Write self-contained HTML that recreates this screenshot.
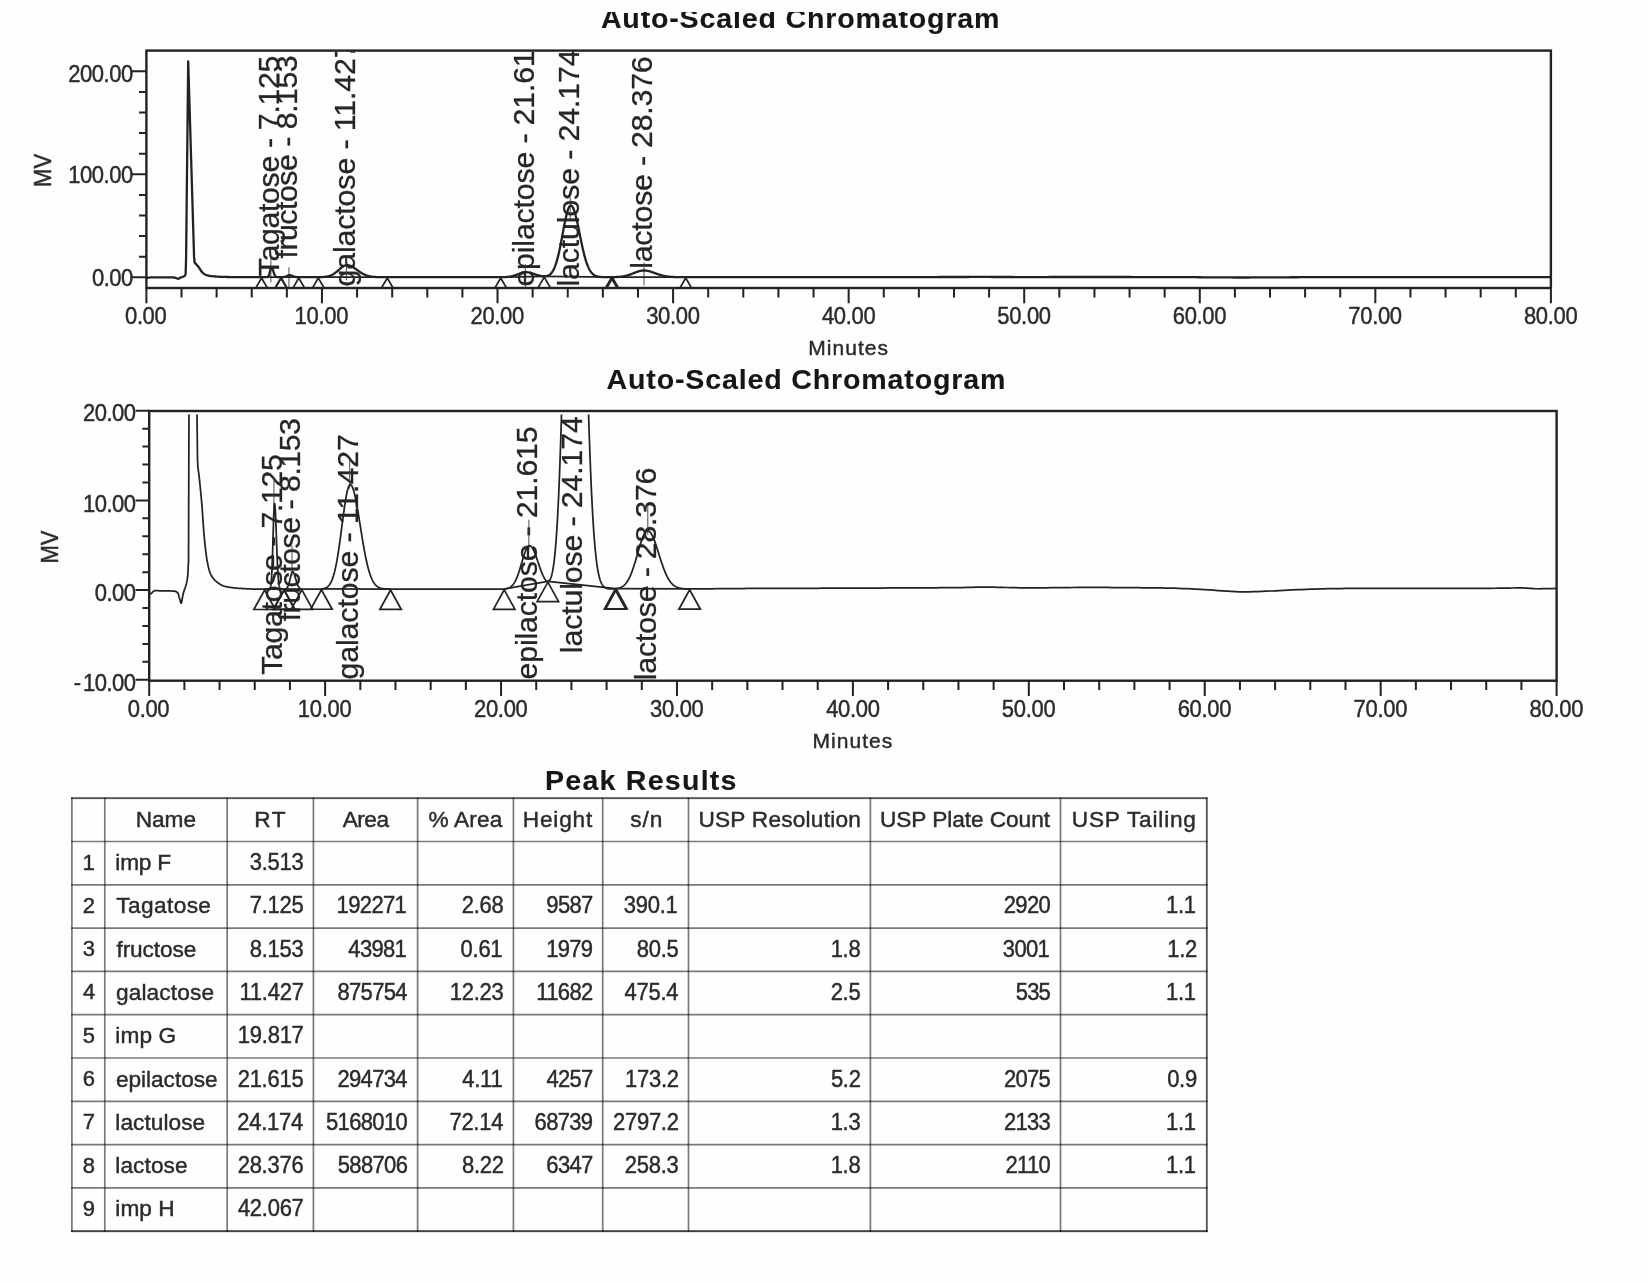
<!DOCTYPE html>
<html><head><meta charset="utf-8"><title>Chromatogram</title>
<style>html,body{margin:0;padding:0;background:#fefefe;}body{width:1648px;height:1283px;position:relative;overflow:hidden;font-family:"Liberation Sans",sans-serif;}</style>
</head><body>
<svg width="1648" height="1283" viewBox="0 0 1648 1283" style="position:absolute;left:0;top:0;filter:blur(0.55px);font-family:'Liberation Sans',sans-serif;">
<rect width="1648" height="1283" fill="#fefefe"/>
<defs><clipPath id="t1"><rect x="0" y="12" width="1648" height="40"/></clipPath></defs>
<g clip-path="url(#t1)">
<text transform="translate(600.88,28.40) scale(1.08,1.03)" fill="#161616" stroke="#161616" stroke-width="0.1" style="font-size:26.5px;font-weight:bold;letter-spacing:0.755px;">Auto-Scaled Chromatogram</text>
</g>
<text transform="translate(606.58,388.60) scale(1.08,1.03)" fill="#161616" stroke="#161616" stroke-width="0.1" style="font-size:26.5px;font-weight:bold;letter-spacing:0.763px;">Auto-Scaled Chromatogram</text>
<clipPath id="c1"><rect x="146.40" y="51.60" width="1404.50" height="236.40"/></clipPath>
<clipPath id="c1s"><rect x="146.40" y="54.20" width="1404.50" height="233.80"/></clipPath>
<g clip-path="url(#c1)">
<text transform="translate(279.29,276.41) rotate(-90) scale(1.0,1.0)" fill="#262626" stroke="#262626" stroke-width="0.3" style="font-size:30.3px;letter-spacing:-0.328px;">Tagatose - 7.125</text>
<text transform="translate(297.34,258.55) rotate(-90) scale(1.0,1.0)" fill="#262626" stroke="#262626" stroke-width="0.3" style="font-size:30.3px;letter-spacing:-0.484px;">fructose - 8.153</text>
<text transform="translate(354.82,286.61) rotate(-90) scale(1.0,1.0)" fill="#262626" stroke="#262626" stroke-width="0.3" style="font-size:30.3px;letter-spacing:-0.104px;">galactose - 11.427</text>
<text transform="translate(533.68,286.61) rotate(-90) scale(1.0,1.0)" fill="#262626" stroke="#262626" stroke-width="0.3" style="font-size:30.3px;letter-spacing:-0.167px;">epilactose - 21.615</text>
<text transform="translate(578.60,286.57) rotate(-90) scale(1.0,1.0)" fill="#262626" stroke="#262626" stroke-width="0.3" style="font-size:30.3px;letter-spacing:-0.123px;">lactulose - 24.174</text>
<text transform="translate(652.38,268.87) rotate(-90) scale(1.0,1.0)" fill="#262626" stroke="#262626" stroke-width="0.3" style="font-size:30.3px;letter-spacing:-0.200px;">lactose - 28.376</text>
</g>
<g clip-path="url(#c1)" stroke="#3a3a3a" stroke-width="0.9" fill="none">
<path d="M270.89,259.36 V282.36"/>
<path d="M288.94,267.19 V288.00"/>
<path d="M346.42,257.20 V280.20"/>
<path d="M525.28,264.20 V287.20"/>
<path d="M570.20,197.51 V220.51"/>
<path d="M643.98,262.50 V285.50"/>
</g>
<g clip-path="url(#c1)" stroke="#222" stroke-width="1.7" fill="none" stroke-linejoin="miter">
<path d="M261.57,277.20 L281.06,277.19"/>
<path d="M281.06,277.19 L298.79,277.18"/>
<path d="M318.28,277.17 L387.27,277.19"/>
<path d="M500.69,277.17 L544.22,276.30"/>
<path d="M544.22,276.30 L611.99,277.14"/>
<path d="M611.99,277.14 L685.73,277.17"/>
<path d="M261.57,278.00 L268.32,289.60 L254.82,289.60 Z"/>
<path d="M280.88,277.99 L287.63,289.59 L274.13,289.59 Z"/>
<path d="M281.23,277.99 L287.98,289.59 L274.48,289.59 Z"/>
<path d="M298.79,277.98 L305.54,289.58 L292.04,289.58 Z"/>
<path d="M318.28,277.97 L325.03,289.57 L311.53,289.57 Z"/>
<path d="M387.27,277.99 L394.02,289.59 L380.52,289.59 Z"/>
<path d="M500.69,277.97 L507.44,289.57 L493.94,289.57 Z"/>
<path d="M544.22,277.10 L550.97,288.70 L537.47,288.70 Z"/>
<path d="M611.29,277.95 L618.04,289.55 L604.54,289.55 Z"/>
<path d="M612.69,277.93 L619.44,289.53 L605.94,289.53 Z"/>
<path d="M685.73,277.97 L692.48,289.57 L678.98,289.57 Z"/>
</g>
<path clip-path="url(#c1s)" d="M146.40,277.76 L146.84,277.75 L147.28,277.74 L147.72,277.73 L147.80,277.72 L148.16,277.70 L148.59,277.67 L149.03,277.62 L149.47,277.57 L149.91,277.52 L150.35,277.47 L150.79,277.42 L151.23,277.39 L151.67,277.37 L151.84,277.37 L152.11,277.37 L152.54,277.37 L152.98,277.37 L153.42,277.37 L153.86,277.37 L154.30,277.37 L154.74,277.37 L155.18,277.37 L155.62,277.37 L156.06,277.37 L156.49,277.37 L156.93,277.38 L157.37,277.38 L157.81,277.38 L158.25,277.38 L158.69,277.38 L159.13,277.38 L159.57,277.38 L160.01,277.38 L160.44,277.38 L160.88,277.38 L161.32,277.38 L161.76,277.38 L162.20,277.38 L162.64,277.38 L163.08,277.38 L163.52,277.38 L163.96,277.39 L164.40,277.39 L164.83,277.39 L165.27,277.39 L165.71,277.39 L166.15,277.39 L166.59,277.39 L167.03,277.39 L167.47,277.40 L167.91,277.40 L168.35,277.40 L168.78,277.40 L169.22,277.41 L169.66,277.41 L170.10,277.41 L170.54,277.42 L170.98,277.42 L171.42,277.42 L171.51,277.42 L171.86,277.43 L172.30,277.44 L172.73,277.46 L173.17,277.48 L173.61,277.50 L174.05,277.54 L174.49,277.57 L174.84,277.61 L174.93,277.62 L175.37,277.73 L175.81,277.90 L176.25,278.09 L176.60,278.23 L176.68,278.26 L177.12,278.44 L177.56,278.62 L178.00,278.76 L178.35,278.80 L178.44,278.80 L178.88,278.62 L179.32,278.31 L179.76,278.02 L180.20,277.80 L180.63,277.60 L180.81,277.53 L181.07,277.43 L181.51,277.28 L181.95,277.14 L182.39,277.00 L182.83,276.84 L183.09,276.73 L183.27,276.66 L183.34,276.62 L183.41,276.59 L183.48,276.56 L183.55,276.53 L183.62,276.50 L183.69,276.46 L183.71,276.45 L183.76,276.43 L183.83,276.39 L183.90,276.36 L183.97,276.32 L184.04,276.28 L184.11,276.24 L184.15,276.22 L184.18,276.19 L184.25,276.15 L184.32,276.10 L184.39,276.05 L184.46,276.00 L184.53,275.94 L184.58,275.90 L184.60,275.88 L184.67,275.82 L184.74,275.76 L184.81,275.69 L184.85,275.65 L184.88,275.62 L184.95,275.54 L185.02,275.46 L185.09,275.14 L185.16,274.99 L185.23,274.85 L185.30,274.70 L185.37,274.55 L185.45,274.41 L185.46,274.37 L185.52,274.26 L185.59,274.11 L185.64,274.00 L185.66,273.36 L185.73,270.80 L185.80,268.24 L185.87,265.67 L185.90,264.39 L185.94,263.11 L186.01,260.55 L186.08,257.98 L186.11,256.70 L186.15,253.42 L186.22,246.85 L186.29,240.28 L186.34,235.35 L186.36,233.71 L186.43,227.15 L186.50,220.58 L186.57,214.01 L186.64,207.44 L186.71,200.87 L186.78,194.31 L186.85,187.74 L186.92,181.17 L186.99,174.60 L187.06,168.04 L187.13,161.47 L187.20,154.90 L187.22,153.26 L187.27,148.33 L187.34,141.76 L187.41,135.20 L187.48,128.63 L187.55,122.06 L187.62,115.49 L187.66,112.21 L187.69,108.93 L187.76,102.36 L187.83,95.79 L187.90,89.22 L187.97,82.65 L188.04,76.09 L188.10,71.16 L188.11,69.52 L188.18,62.95 L188.20,61.31 L188.25,63.06 L188.32,65.40 L188.39,67.74 L188.46,70.08 L188.53,72.42 L188.61,74.76 L188.68,77.10 L188.75,79.44 L188.82,81.78 L188.89,84.12 L188.96,86.46 L188.97,87.05 L189.03,88.80 L189.10,91.14 L189.17,93.48 L189.24,95.82 L189.31,98.16 L189.38,100.50 L189.41,101.67 L189.45,102.84 L189.52,105.18 L189.59,107.52 L189.66,109.86 L189.73,112.20 L189.80,114.54 L189.85,116.30 L189.87,116.88 L189.94,119.22 L190.01,121.56 L190.08,123.90 L190.15,126.24 L190.22,128.58 L190.29,130.92 L190.36,133.26 L190.43,135.60 L190.50,137.94 L190.57,140.28 L190.64,142.62 L190.71,144.96 L190.73,145.55 L190.78,147.30 L190.85,149.64 L190.92,151.98 L190.99,154.32 L191.06,156.66 L191.13,159.00 L191.17,160.17 L191.20,161.34 L191.27,163.68 L191.34,166.02 L191.41,168.36 L191.48,170.70 L191.55,173.04 L191.61,174.80 L191.62,175.38 L191.70,177.72 L191.77,180.06 L191.84,182.40 L191.91,184.74 L191.98,187.08 L192.05,189.42 L192.12,191.76 L192.19,194.10 L192.26,196.44 L192.33,198.78 L192.40,201.12 L192.47,203.46 L192.49,204.05 L192.54,205.80 L192.61,208.14 L192.68,210.48 L192.75,212.82 L192.82,215.16 L192.89,217.50 L192.92,218.67 L192.96,219.84 L193.03,222.18 L193.10,224.52 L193.17,226.86 L193.24,229.20 L193.31,231.54 L193.36,233.30 L193.38,233.88 L193.45,236.22 L193.52,238.56 L193.59,240.90 L193.66,243.24 L193.73,245.58 L193.80,247.92 L193.87,250.26 L193.94,252.60 L194.01,254.94 L194.07,256.70 L194.08,256.88 L194.15,257.61 L194.22,258.34 L194.24,258.53 L194.29,259.08 L194.36,259.81 L194.43,260.54 L194.50,261.27 L194.57,262.00 L194.61,262.37 L194.64,262.41 L194.68,262.45 L194.71,262.49 L194.79,262.57 L194.86,262.87 L194.93,262.99 L195.00,263.10 L195.07,263.19 L195.12,263.26 L195.14,263.28 L195.21,263.36 L195.28,263.44 L195.35,263.51 L195.42,263.57 L195.49,263.63 L195.56,263.68 L196.00,264.01 L196.31,264.32 L196.44,264.46 L196.87,264.97 L197.31,265.47 L197.75,265.98 L198.19,266.50 L198.63,267.06 L198.81,267.29 L199.07,267.66 L199.51,268.35 L199.95,269.08 L200.39,269.81 L200.82,270.51 L201.26,271.12 L201.35,271.22 L201.70,271.64 L202.14,272.13 L202.58,272.60 L203.02,273.02 L203.46,273.40 L203.90,273.73 L203.98,273.79 L204.34,274.01 L204.77,274.27 L205.21,274.52 L205.65,274.74 L206.09,274.94 L206.53,275.12 L206.97,275.26 L207.32,275.36 L207.41,275.39 L207.85,275.49 L208.29,275.59 L208.72,275.68 L209.16,275.77 L209.60,275.85 L210.04,275.92 L210.48,275.99 L210.92,276.05 L211.36,276.10 L211.80,276.16 L212.24,276.20 L212.59,276.24 L212.67,276.25 L213.11,276.29 L213.55,276.33 L213.99,276.37 L214.43,276.41 L214.87,276.45 L215.31,276.49 L215.75,276.52 L216.19,276.56 L216.62,276.59 L217.06,276.62 L217.50,276.65 L217.94,276.68 L218.38,276.71 L218.82,276.73 L219.26,276.76 L219.70,276.78 L220.14,276.80 L220.58,276.82 L221.01,276.84 L221.45,276.86 L221.89,276.87 L222.33,276.89 L222.77,276.90 L223.21,276.91 L223.65,276.92 L224.09,276.93 L224.53,276.94 L224.96,276.95 L225.40,276.95 L225.84,276.96 L226.28,276.97 L226.72,276.98 L227.16,276.99 L227.60,276.99 L228.04,277.00 L228.48,277.01 L228.91,277.01 L229.35,277.02 L229.79,277.03 L230.23,277.03 L230.67,277.04 L231.11,277.04 L231.55,277.05 L231.99,277.06 L232.43,277.06 L232.86,277.07 L233.30,277.07 L233.74,277.07 L234.18,277.08 L234.62,277.08 L235.06,277.09 L235.50,277.09 L235.94,277.09 L236.38,277.10 L236.81,277.10 L237.25,277.11 L237.69,277.11 L238.13,277.11 L238.57,277.12 L239.01,277.12 L239.45,277.12 L239.89,277.12 L239.97,277.12 L240.33,277.13 L240.76,277.13 L241.20,277.13 L241.64,277.14 L242.08,277.14 L242.52,277.14 L242.96,277.14 L243.40,277.15 L243.84,277.15 L244.28,277.15 L244.71,277.15 L245.15,277.16 L245.59,277.16 L246.03,277.16 L246.47,277.16 L246.91,277.17 L247.35,277.17 L247.79,277.17 L248.23,277.17 L248.67,277.18 L249.10,277.18 L249.54,277.18 L249.98,277.18 L250.42,277.18 L250.86,277.18 L251.30,277.19 L251.74,277.19 L252.18,277.19 L252.62,277.19 L253.05,277.19 L253.49,277.19 L253.93,277.19 L254.37,277.19 L254.81,277.20 L255.25,277.20 L255.69,277.20 L256.13,277.20 L256.57,277.20 L257.00,277.20 L257.44,277.20 L257.88,277.20 L258.32,277.20 L258.76,277.20 L259.20,277.20 L259.64,277.20 L260.08,277.20 L260.52,277.20 L260.95,277.20 L261.39,277.20 L261.83,277.20 L262.27,277.20 L262.71,277.20 L263.15,277.20 L263.59,277.20 L264.03,277.20 L264.47,277.20 L264.90,277.20 L265.34,277.19 L265.78,277.19 L265.96,277.19 L266.13,277.18 L266.22,277.18 L266.31,277.17 L266.48,277.16 L266.66,277.14 L266.84,277.12 L267.01,277.09 L267.10,277.07 L267.19,277.04 L267.36,276.98 L267.54,276.90 L267.71,276.80 L267.89,276.66 L267.98,276.58 L268.06,276.49 L268.24,276.28 L268.42,276.02 L268.59,275.70 L268.77,275.33 L268.85,275.12 L268.94,274.90 L269.12,274.41 L269.29,273.86 L269.47,273.26 L269.64,272.61 L269.73,272.27 L269.82,271.93 L270.00,271.23 L270.17,270.53 L270.35,269.85 L270.52,269.22 L270.61,268.92 L270.70,268.65 L270.87,268.16 L271.05,267.78 L271.22,267.51 L271.40,267.38 L271.49,267.36 L271.58,267.37 L271.75,267.46 L271.93,267.64 L272.10,267.89 L272.28,268.22 L272.37,268.41 L272.45,268.62 L272.63,269.08 L272.81,269.58 L272.98,270.11 L273.16,270.66 L273.24,270.95 L273.33,271.23 L273.51,271.80 L273.68,272.35 L273.86,272.89 L274.03,273.41 L274.12,273.65 L274.21,273.89 L274.39,274.34 L274.56,274.74 L274.74,275.11 L274.91,275.44 L275.00,275.59 L275.09,275.73 L275.26,275.99 L275.44,276.21 L275.61,276.39 L275.79,276.55 L275.88,276.62 L275.97,276.68 L276.14,276.79 L276.32,276.88 L276.49,276.95 L276.67,277.01 L276.76,277.03 L276.84,277.05 L277.02,277.09 L277.19,277.12 L277.37,277.14 L277.55,277.15 L277.63,277.16 L277.72,277.16 L277.90,277.17 L278.07,277.18 L278.51,277.19 L278.95,277.19 L279.39,277.20 L279.83,277.20 L280.27,277.20 L280.71,277.19 L281.14,277.19 L281.58,277.19 L282.02,277.18 L282.46,277.17 L282.90,277.14 L283.34,277.11 L283.78,277.07 L284.22,277.00 L284.66,276.92 L285.09,276.80 L285.53,276.66 L285.97,276.50 L286.41,276.30 L286.85,276.09 L287.29,275.87 L287.73,275.66 L288.17,275.48 L288.61,275.33 L289.04,275.23 L289.48,275.19 L289.92,275.21 L290.36,275.26 L290.80,275.36 L291.24,275.49 L291.68,275.64 L292.12,275.82 L292.56,275.99 L292.99,276.17 L293.43,276.34 L293.87,276.50 L294.31,276.64 L294.75,276.76 L295.19,276.86 L295.63,276.95 L296.07,277.01 L296.51,277.07 L296.94,277.10 L297.38,277.13 L297.82,277.15 L298.26,277.17 L298.70,277.18 L299.14,277.19 L299.58,277.19 L300.02,277.19 L300.46,277.19 L300.89,277.20 L301.33,277.20 L301.77,277.20 L302.21,277.20 L302.65,277.20 L303.09,277.20 L303.53,277.20 L303.97,277.20 L304.41,277.20 L304.85,277.20 L305.28,277.20 L305.72,277.20 L306.16,277.20 L306.60,277.20 L307.04,277.20 L307.48,277.20 L307.92,277.20 L308.36,277.20 L308.80,277.20 L309.23,277.20 L309.67,277.20 L310.11,277.20 L310.55,277.20 L310.99,277.20 L311.43,277.20 L311.87,277.20 L312.31,277.20 L312.75,277.19 L313.18,277.19 L313.62,277.19 L314.06,277.19 L314.50,277.19 L314.94,277.19 L315.38,277.19 L315.82,277.19 L316.26,277.19 L316.70,277.18 L317.13,277.18 L317.57,277.18 L318.01,277.17 L318.45,277.17 L318.89,277.16 L319.33,277.15 L319.77,277.15 L320.21,277.14 L320.65,277.12 L321.08,277.11 L321.52,277.10 L321.96,277.08 L322.40,277.06 L322.84,277.03 L323.28,277.01 L323.72,276.97 L324.16,276.94 L324.60,276.90 L325.03,276.85 L325.47,276.80 L325.91,276.74 L326.35,276.68 L326.79,276.60 L327.23,276.52 L327.67,276.43 L328.11,276.33 L328.55,276.22 L328.99,276.09 L329.42,275.96 L329.86,275.81 L330.30,275.65 L330.74,275.48 L331.18,275.29 L331.62,275.09 L332.06,274.88 L332.50,274.65 L332.94,274.40 L333.37,274.14 L333.81,273.86 L334.25,273.57 L334.69,273.26 L335.13,272.94 L335.57,272.61 L336.01,272.27 L336.45,271.91 L336.89,271.55 L337.32,271.18 L337.76,270.80 L338.20,270.41 L338.64,270.03 L339.08,269.64 L339.52,269.25 L339.96,268.87 L340.40,268.50 L340.84,268.13 L341.27,267.78 L341.71,267.44 L342.15,267.11 L342.59,266.80 L343.03,266.52 L343.47,266.26 L343.91,266.02 L344.35,265.81 L344.79,265.63 L345.22,265.48 L345.66,265.36 L346.10,265.27 L346.54,265.22 L346.98,265.20 L347.42,265.21 L347.86,265.24 L348.30,265.30 L348.74,265.37 L349.17,265.47 L349.61,265.60 L350.05,265.74 L350.49,265.90 L350.93,266.08 L351.37,266.28 L351.81,266.50 L352.25,266.73 L352.69,266.98 L353.12,267.24 L353.56,267.51 L354.00,267.79 L354.44,268.09 L354.88,268.39 L355.32,268.69 L355.76,269.00 L356.20,269.32 L356.64,269.64 L357.07,269.96 L357.51,270.28 L357.95,270.59 L358.39,270.91 L358.83,271.22 L359.27,271.53 L359.71,271.83 L360.15,272.12 L360.59,272.41 L361.03,272.69 L361.46,272.97 L361.90,273.23 L362.34,273.48 L362.78,273.73 L363.22,273.96 L363.66,274.19 L364.10,274.40 L364.54,274.61 L364.98,274.80 L365.41,274.98 L365.85,275.16 L366.29,275.32 L366.73,275.47 L367.17,275.62 L367.61,275.75 L368.05,275.88 L368.49,276.00 L368.93,276.11 L369.36,276.21 L369.80,276.30 L370.24,276.39 L370.68,276.46 L371.12,276.54 L371.56,276.60 L372.00,276.67 L372.44,276.72 L372.88,276.77 L373.31,276.82 L373.75,276.86 L374.19,276.90 L374.63,276.93 L375.07,276.96 L375.51,276.99 L375.95,277.01 L376.39,277.04 L376.83,277.06 L377.26,277.07 L377.70,277.09 L378.14,277.10 L378.58,277.11 L379.02,277.12 L379.46,277.13 L379.90,277.14 L380.34,277.15 L380.78,277.16 L381.21,277.16 L381.65,277.17 L382.09,277.17 L382.53,277.17 L382.97,277.18 L383.41,277.18 L383.85,277.18 L384.29,277.19 L384.73,277.19 L385.16,277.19 L385.60,277.19 L386.04,277.19 L386.48,277.19 L386.92,277.19 L387.36,277.19 L387.80,277.19 L388.24,277.19 L388.68,277.19 L389.12,277.20 L389.55,277.20 L389.99,277.20 L390.43,277.20 L390.87,277.20 L391.31,277.20 L391.75,277.20 L392.19,277.20 L392.63,277.20 L393.07,277.20 L393.50,277.20 L393.94,277.20 L394.38,277.20 L394.82,277.20 L395.26,277.20 L395.70,277.20 L396.14,277.20 L396.58,277.20 L397.02,277.20 L397.45,277.20 L397.89,277.20 L398.33,277.20 L398.77,277.20 L399.21,277.20 L399.65,277.20 L400.09,277.20 L400.53,277.20 L400.97,277.20 L401.40,277.20 L401.84,277.20 L402.28,277.20 L402.72,277.20 L403.16,277.20 L403.60,277.20 L404.04,277.20 L404.48,277.20 L404.92,277.20 L405.35,277.20 L405.79,277.20 L406.23,277.20 L406.67,277.20 L407.11,277.20 L407.55,277.20 L407.99,277.20 L408.43,277.20 L408.87,277.20 L409.30,277.20 L409.74,277.20 L410.18,277.20 L410.62,277.20 L411.06,277.20 L411.50,277.20 L411.94,277.20 L412.38,277.20 L412.82,277.20 L413.25,277.20 L413.69,277.20 L414.13,277.20 L414.57,277.20 L415.01,277.20 L415.45,277.20 L415.89,277.20 L416.33,277.20 L416.77,277.20 L417.21,277.20 L417.64,277.20 L418.08,277.20 L418.52,277.20 L418.96,277.20 L419.40,277.20 L419.84,277.20 L420.28,277.20 L420.72,277.20 L421.16,277.20 L421.59,277.20 L422.03,277.20 L422.47,277.20 L422.91,277.20 L423.35,277.20 L423.79,277.20 L424.23,277.20 L424.67,277.20 L425.11,277.20 L425.54,277.20 L425.98,277.20 L426.42,277.20 L426.86,277.20 L427.30,277.20 L427.74,277.20 L428.18,277.20 L428.62,277.20 L429.06,277.20 L429.49,277.20 L429.93,277.20 L430.37,277.20 L430.81,277.20 L431.25,277.20 L431.69,277.20 L432.13,277.20 L432.57,277.20 L433.01,277.20 L433.44,277.20 L433.88,277.20 L434.32,277.20 L434.76,277.20 L435.20,277.20 L435.64,277.20 L436.08,277.20 L436.52,277.20 L436.96,277.20 L437.39,277.20 L437.83,277.20 L438.27,277.20 L438.71,277.20 L439.15,277.20 L439.59,277.20 L440.03,277.20 L440.47,277.20 L440.91,277.20 L441.35,277.20 L441.78,277.20 L442.22,277.20 L442.66,277.20 L443.10,277.20 L443.54,277.20 L443.98,277.20 L444.42,277.20 L444.86,277.20 L445.30,277.20 L445.73,277.20 L446.17,277.20 L446.61,277.20 L447.05,277.20 L447.49,277.20 L447.93,277.20 L448.37,277.20 L448.81,277.20 L449.25,277.20 L449.68,277.20 L450.12,277.20 L450.56,277.20 L451.00,277.20 L451.44,277.20 L451.88,277.20 L452.32,277.20 L452.76,277.20 L453.20,277.20 L453.63,277.20 L454.07,277.20 L454.51,277.20 L454.95,277.20 L455.39,277.20 L455.83,277.20 L456.27,277.20 L456.71,277.20 L457.15,277.20 L457.58,277.20 L458.02,277.20 L458.46,277.20 L458.90,277.20 L459.34,277.20 L459.78,277.20 L460.22,277.20 L460.66,277.20 L461.10,277.20 L461.53,277.20 L461.97,277.20 L462.41,277.20 L462.85,277.20 L463.29,277.20 L463.73,277.20 L464.17,277.20 L464.61,277.20 L465.05,277.20 L465.48,277.20 L465.92,277.20 L466.36,277.20 L466.80,277.20 L467.24,277.20 L467.68,277.20 L468.12,277.20 L468.56,277.20 L469.00,277.20 L469.43,277.20 L469.87,277.20 L470.31,277.20 L470.75,277.20 L471.19,277.20 L471.63,277.20 L472.07,277.20 L472.51,277.20 L472.95,277.20 L473.39,277.20 L473.82,277.20 L474.26,277.20 L474.70,277.20 L475.14,277.20 L475.58,277.20 L476.02,277.20 L476.46,277.20 L476.90,277.20 L477.34,277.20 L477.77,277.20 L478.21,277.20 L478.65,277.20 L479.09,277.20 L479.53,277.20 L479.97,277.20 L480.41,277.20 L480.85,277.20 L481.29,277.20 L481.72,277.20 L482.16,277.20 L482.60,277.20 L483.04,277.20 L483.48,277.20 L483.92,277.20 L484.36,277.20 L484.80,277.20 L485.24,277.20 L485.67,277.20 L486.11,277.20 L486.55,277.20 L486.99,277.20 L487.43,277.20 L487.87,277.20 L488.31,277.20 L488.75,277.20 L489.19,277.20 L489.62,277.20 L490.06,277.20 L490.50,277.20 L490.94,277.20 L491.38,277.20 L491.82,277.20 L492.26,277.20 L492.70,277.20 L493.14,277.20 L493.57,277.20 L494.01,277.20 L494.45,277.20 L494.89,277.20 L495.33,277.19 L495.77,277.19 L496.21,277.19 L496.65,277.19 L497.09,277.19 L497.52,277.19 L497.96,277.19 L498.40,277.19 L498.84,277.19 L499.28,277.18 L499.72,277.18 L500.16,277.18 L500.60,277.17 L501.04,277.17 L501.48,277.16 L501.91,277.16 L502.35,277.15 L502.79,277.14 L503.23,277.13 L503.67,277.12 L504.11,277.10 L504.55,277.09 L504.99,277.07 L505.43,277.05 L505.86,277.02 L506.30,277.00 L506.74,276.96 L507.18,276.93 L507.62,276.89 L508.06,276.85 L508.50,276.80 L508.94,276.75 L509.38,276.69 L509.81,276.62 L510.25,276.55 L510.69,276.47 L511.13,276.39 L511.57,276.30 L512.01,276.20 L512.45,276.09 L512.89,275.98 L513.33,275.86 L513.76,275.74 L514.20,275.60 L514.64,275.46 L515.08,275.32 L515.52,275.16 L515.96,275.01 L516.40,274.84 L516.84,274.68 L517.28,274.51 L517.71,274.34 L518.15,274.17 L518.59,273.99 L519.03,273.82 L519.47,273.66 L519.91,273.49 L520.35,273.33 L520.79,273.18 L521.23,273.03 L521.66,272.89 L522.10,272.76 L522.54,272.65 L522.98,272.54 L523.42,272.45 L523.86,272.37 L524.30,272.30 L524.74,272.26 L525.18,272.22 L525.62,272.20 L526.05,272.20 L526.49,272.21 L526.93,272.24 L527.37,272.27 L527.81,272.32 L528.25,272.38 L528.69,272.45 L529.13,272.53 L529.57,272.62 L530.00,272.72 L530.44,272.83 L530.88,272.95 L531.32,273.07 L531.76,273.20 L532.20,273.34 L532.64,273.48 L533.08,273.63 L533.52,273.77 L533.95,273.92 L534.39,274.07 L534.83,274.22 L535.27,274.37 L535.71,274.52 L536.15,274.67 L536.59,274.81 L537.03,274.95 L537.47,275.09 L537.90,275.22 L538.34,275.35 L538.78,275.47 L539.22,275.59 L539.66,275.69 L540.10,275.80 L540.54,275.89 L540.98,275.97 L541.42,276.05 L541.85,276.12 L542.29,276.18 L542.73,276.23 L543.17,276.26 L543.61,276.29 L544.05,276.30 L544.49,276.30 L544.93,276.28 L545.37,276.25 L545.80,276.20 L546.24,276.13 L546.68,276.03 L547.12,275.92 L547.56,275.78 L548.00,275.61 L548.44,275.41 L548.88,275.18 L549.32,274.91 L549.75,274.60 L550.19,274.25 L550.63,273.85 L551.07,273.40 L551.51,272.89 L551.95,272.33 L552.39,271.70 L552.83,271.00 L553.27,270.24 L553.70,269.39 L554.14,268.47 L554.58,267.47 L555.02,266.38 L555.46,265.20 L555.90,263.93 L556.34,262.57 L556.78,261.12 L557.22,259.57 L557.66,257.92 L558.09,256.19 L558.53,254.37 L558.97,252.46 L559.41,250.46 L559.85,248.40 L560.29,246.26 L560.73,244.06 L561.17,241.81 L561.61,239.51 L562.04,237.19 L562.48,234.84 L562.92,232.49 L563.36,230.14 L563.80,227.82 L564.24,225.53 L564.68,223.30 L565.12,221.13 L565.56,219.05 L565.99,217.07 L566.43,215.20 L566.87,213.46 L567.31,211.86 L567.75,210.41 L568.19,209.14 L568.63,208.04 L569.07,207.13 L569.51,206.42 L569.94,205.91 L570.38,205.60 L570.82,205.51 L571.26,205.60 L571.70,205.87 L572.14,206.32 L572.58,206.94 L573.02,207.73 L573.46,208.68 L573.89,209.78 L574.33,211.03 L574.77,212.41 L575.21,213.93 L575.65,215.56 L576.09,217.30 L576.53,219.13 L576.97,221.05 L577.41,223.04 L577.84,225.09 L578.28,227.18 L578.72,229.31 L579.16,231.46 L579.60,233.62 L580.04,235.79 L580.48,237.94 L580.92,240.08 L581.36,242.18 L581.79,244.25 L582.23,246.27 L582.67,248.24 L583.11,250.15 L583.55,252.00 L583.99,253.78 L584.43,255.49 L584.87,257.12 L585.31,258.68 L585.75,260.15 L586.18,261.55 L586.62,262.87 L587.06,264.11 L587.50,265.28 L587.94,266.36 L588.38,267.37 L588.82,268.31 L589.26,269.18 L589.70,269.98 L590.13,270.72 L590.57,271.40 L591.01,272.02 L591.45,272.58 L591.89,273.09 L592.33,273.56 L592.77,273.98 L593.21,274.36 L593.65,274.70 L594.08,275.00 L594.52,275.27 L594.96,275.52 L595.40,275.73 L595.84,275.92 L596.28,276.09 L596.72,276.24 L597.16,276.37 L597.60,276.48 L598.03,276.58 L598.47,276.67 L598.91,276.75 L599.35,276.81 L599.79,276.87 L600.23,276.92 L600.67,276.96 L601.11,276.99 L601.55,277.03 L601.98,277.05 L602.42,277.07 L602.86,277.09 L603.30,277.11 L603.74,277.12 L604.18,277.13 L604.62,277.14 L605.06,277.15 L605.50,277.15 L605.93,277.16 L606.37,277.16 L606.81,277.16 L607.25,277.17 L607.69,277.17 L608.13,277.17 L608.57,277.17 L609.01,277.17 L609.45,277.16 L609.88,277.16 L610.32,277.16 L610.76,277.15 L611.20,277.15 L611.64,277.15 L612.08,277.14 L612.52,277.13 L612.96,277.13 L613.40,277.12 L613.84,277.11 L614.27,277.10 L614.71,277.08 L615.15,277.07 L615.59,277.05 L616.03,277.04 L616.47,277.02 L616.91,277.00 L617.35,276.97 L617.79,276.95 L618.22,276.92 L618.66,276.89 L619.10,276.86 L619.54,276.82 L619.98,276.78 L620.42,276.73 L620.86,276.69 L621.30,276.64 L621.74,276.58 L622.17,276.52 L622.61,276.46 L623.05,276.39 L623.49,276.31 L623.93,276.23 L624.37,276.15 L624.81,276.06 L625.25,275.96 L625.69,275.86 L626.12,275.75 L626.56,275.64 L627.00,275.52 L627.44,275.40 L627.88,275.27 L628.32,275.14 L628.76,275.00 L629.20,274.85 L629.64,274.70 L630.07,274.55 L630.51,274.39 L630.95,274.23 L631.39,274.06 L631.83,273.89 L632.27,273.72 L632.71,273.55 L633.15,273.37 L633.59,273.19 L634.02,273.02 L634.46,272.84 L634.90,272.67 L635.34,272.49 L635.78,272.32 L636.22,272.16 L636.66,271.99 L637.10,271.83 L637.54,271.68 L637.97,271.53 L638.41,271.39 L638.85,271.26 L639.29,271.14 L639.73,271.02 L640.17,270.92 L640.61,270.83 L641.05,270.74 L641.49,270.67 L641.93,270.61 L642.36,270.56 L642.80,270.52 L643.24,270.50 L643.68,270.49 L644.12,270.49 L644.56,270.50 L645.00,270.52 L645.44,270.56 L645.88,270.60 L646.31,270.65 L646.75,270.71 L647.19,270.78 L647.63,270.87 L648.07,270.96 L648.51,271.05 L648.95,271.16 L649.39,271.27 L649.83,271.39 L650.26,271.52 L650.70,271.65 L651.14,271.79 L651.58,271.94 L652.02,272.08 L652.46,272.23 L652.90,272.39 L653.34,272.54 L653.78,272.70 L654.21,272.86 L654.65,273.02 L655.09,273.18 L655.53,273.34 L655.97,273.51 L656.41,273.66 L656.85,273.82 L657.29,273.98 L657.73,274.13 L658.16,274.28 L658.60,274.43 L659.04,274.57 L659.48,274.71 L659.92,274.85 L660.36,274.98 L660.80,275.11 L661.24,275.23 L661.68,275.35 L662.11,275.46 L662.55,275.57 L662.99,275.68 L663.43,275.78 L663.87,275.88 L664.31,275.97 L664.75,276.05 L665.19,276.14 L665.63,276.21 L666.06,276.29 L666.50,276.36 L666.94,276.42 L667.38,276.48 L667.82,276.54 L668.26,276.59 L668.70,276.64 L669.14,276.69 L669.58,276.73 L670.02,276.77 L670.45,276.81 L670.89,276.84 L671.33,276.87 L671.77,276.90 L672.21,276.93 L672.65,276.95 L673.09,276.97 L673.53,276.99 L673.97,277.01 L674.40,277.03 L674.84,277.04 L675.28,277.06 L675.72,277.07 L676.16,277.08 L676.60,277.09 L677.04,277.10 L677.48,277.11 L677.92,277.12 L678.35,277.12 L678.79,277.13 L679.23,277.13 L679.67,277.14 L680.11,277.14 L680.55,277.15 L680.99,277.15 L681.43,277.15 L681.87,277.15 L682.30,277.16 L682.74,277.16 L683.18,277.16 L683.62,277.16 L684.06,277.16 L684.50,277.16 L684.94,277.16 L685.38,277.16 L685.82,277.17 L686.25,277.17 L686.69,277.17 L687.13,277.17 L687.57,277.17 L688.01,277.17 L688.45,277.17 L688.89,277.17 L689.33,277.17 L689.77,277.17 L690.20,277.17 L690.64,277.17 L691.08,277.17 L691.52,277.16 L691.96,277.16 L692.40,277.16 L692.84,277.16 L693.28,277.16 L693.72,277.16 L694.15,277.16 L694.59,277.16 L695.03,277.16 L695.47,277.16 L695.91,277.16 L696.35,277.16 L696.79,277.16 L697.23,277.16 L697.67,277.16 L698.11,277.16 L698.54,277.16 L698.98,277.16 L699.42,277.16 L699.86,277.16 L700.30,277.16 L700.74,277.16 L701.18,277.16 L701.62,277.16 L702.06,277.16 L702.49,277.15 L702.93,277.15 L703.37,277.15 L703.81,277.15 L704.25,277.15 L704.69,277.15 L705.13,277.15 L705.57,277.15 L706.01,277.15 L706.44,277.15 L706.88,277.15 L707.32,277.15 L707.76,277.15 L708.20,277.15 L712.59,277.14 L716.98,277.14 L721.37,277.13 L725.76,277.13 L730.15,277.12 L734.53,277.12 L738.92,277.12 L743.31,277.11 L747.70,277.11 L752.09,277.11 L756.48,277.11 L760.87,277.11 L765.26,277.10 L769.65,277.10 L774.04,277.10 L778.42,277.10 L782.81,277.10 L787.20,277.10 L791.59,277.09 L795.98,277.09 L800.37,277.09 L804.76,277.09 L809.15,277.09 L813.54,277.09 L817.93,277.09 L822.32,277.08 L826.70,277.08 L831.09,277.08 L835.48,277.08 L839.87,277.08 L844.26,277.08 L848.65,277.07 L853.04,277.07 L857.43,277.07 L861.82,277.07 L866.21,277.07 L870.60,277.06 L874.98,277.06 L879.37,277.06 L883.76,277.06 L888.15,277.06 L892.54,277.05 L896.93,277.05 L901.32,277.05 L905.71,277.05 L910.10,277.04 L914.49,277.04 L918.87,277.04 L923.26,277.04 L927.65,277.03 L932.04,277.03 L936.43,277.03 L940.82,277.02 L945.21,277.02 L949.60,277.02 L953.99,277.01 L958.38,277.00 L962.77,276.99 L967.15,276.98 L971.54,276.97 L975.93,276.96 L980.32,276.96 L984.71,276.96 L989.10,276.97 L993.49,276.98 L997.88,276.99 L1002.27,277.00 L1006.66,277.01 L1011.05,277.02 L1015.43,277.03 L1019.82,277.04 L1024.21,277.04 L1028.60,277.04 L1032.99,277.04 L1037.38,277.04 L1041.77,277.03 L1046.16,277.03 L1050.55,277.02 L1054.94,277.02 L1059.33,277.01 L1063.71,277.01 L1068.10,277.00 L1072.49,277.00 L1076.88,276.99 L1081.27,276.99 L1085.66,276.99 L1090.05,276.99 L1094.44,276.99 L1098.83,277.00 L1103.22,277.00 L1107.60,277.00 L1111.99,277.00 L1116.38,277.01 L1120.77,277.01 L1125.16,277.02 L1129.55,277.02 L1133.94,277.03 L1138.33,277.03 L1142.72,277.04 L1147.11,277.04 L1151.50,277.05 L1155.88,277.06 L1160.27,277.06 L1164.66,277.07 L1169.05,277.09 L1173.44,277.10 L1177.83,277.12 L1182.22,277.14 L1186.61,277.17 L1191.00,277.19 L1195.39,277.22 L1199.78,277.25 L1204.16,277.28 L1208.55,277.31 L1212.94,277.35 L1217.33,277.39 L1221.72,277.42 L1222.60,277.42 L1226.11,277.45 L1230.50,277.47 L1234.89,277.49 L1239.28,277.51 L1240.15,277.51 L1243.67,277.50 L1248.05,277.49 L1252.44,277.47 L1256.83,277.44 L1261.22,277.42 L1265.61,277.40 L1270.00,277.38 L1274.39,277.36 L1278.78,277.33 L1283.17,277.30 L1287.56,277.28 L1291.95,277.25 L1296.33,277.23 L1300.72,277.21 L1305.11,277.20 L1309.50,277.18 L1313.89,277.17 L1318.28,277.16 L1322.67,277.14 L1327.06,277.13 L1331.45,277.13 L1335.84,277.12 L1340.22,277.11 L1344.61,277.11 L1349.00,277.11 L1353.39,277.11 L1357.78,277.11 L1362.17,277.10 L1366.56,277.10 L1370.95,277.10 L1375.34,277.10 L1379.73,277.10 L1384.12,277.10 L1388.50,277.10 L1392.89,277.10 L1397.28,277.09 L1401.67,277.09 L1406.06,277.09 L1410.45,277.09 L1414.84,277.09 L1419.23,277.09 L1423.62,277.09 L1428.01,277.09 L1432.40,277.09 L1436.78,277.09 L1441.17,277.09 L1445.56,277.09 L1449.95,277.09 L1454.34,277.09 L1458.73,277.09 L1463.12,277.09 L1467.51,277.09 L1471.90,277.09 L1476.29,277.09 L1480.67,277.09 L1485.06,277.09 L1489.45,277.09 L1493.84,277.08 L1498.23,277.07 L1502.62,277.07 L1507.01,277.06 L1511.40,277.05 L1515.79,277.05 L1520.18,277.07 L1524.57,277.10 L1528.95,277.13 L1533.34,277.15 L1537.73,277.14 L1542.12,277.14 L1546.51,277.12 L1550.90,277.09" fill="none" stroke="#222" stroke-width="2.3" stroke-linejoin="round"/>
<rect x="146.40" y="50.60" width="1404.50" height="237.40" fill="none" stroke="#222" stroke-width="2.4"/>
<path d="M132.00,277.30 H146.40 M132.00,174.30 H146.40 M132.00,71.30 H146.40 M139.00,256.70 H146.40 M139.00,236.10 H146.40 M139.00,215.50 H146.40 M139.00,194.90 H146.40 M139.00,153.70 H146.40 M139.00,133.10 H146.40 M139.00,112.50 H146.40 M139.00,91.90 H146.40 M146.40,288.00 V303.20 M181.51,288.00 V297.40 M216.62,288.00 V297.40 M251.74,288.00 V297.40 M286.85,288.00 V297.40 M321.96,288.00 V303.20 M357.07,288.00 V297.40 M392.19,288.00 V297.40 M427.30,288.00 V297.40 M462.41,288.00 V297.40 M497.52,288.00 V303.20 M532.64,288.00 V297.40 M567.75,288.00 V297.40 M602.86,288.00 V297.40 M637.97,288.00 V297.40 M673.09,288.00 V303.20 M708.20,288.00 V297.40 M743.31,288.00 V297.40 M778.42,288.00 V297.40 M813.54,288.00 V297.40 M848.65,288.00 V303.20 M883.76,288.00 V297.40 M918.87,288.00 V297.40 M953.99,288.00 V297.40 M989.10,288.00 V297.40 M1024.21,288.00 V303.20 M1059.33,288.00 V297.40 M1094.44,288.00 V297.40 M1129.55,288.00 V297.40 M1164.66,288.00 V297.40 M1199.78,288.00 V303.20 M1234.89,288.00 V297.40 M1270.00,288.00 V297.40 M1305.11,288.00 V297.40 M1340.22,288.00 V297.40 M1375.34,288.00 V303.20 M1410.45,288.00 V297.40 M1445.56,288.00 V297.40 M1480.67,288.00 V297.40 M1515.79,288.00 V297.40 M1550.90,288.00 V303.20" fill="none" stroke="#222" stroke-width="2"/>
<text transform="translate(91.94,286.20) scale(1.0,1.06)" fill="#2b2b2b" stroke="#2b2b2b" stroke-width="0.42" style="font-size:22px;letter-spacing:-0.521px;">0.00</text>
<text transform="translate(68.32,183.00) scale(1.0,1.06)" fill="#2b2b2b" stroke="#2b2b2b" stroke-width="0.42" style="font-size:22px;letter-spacing:-0.493px;">100.00</text>
<text transform="translate(68.34,82.10) scale(1.0,1.06)" fill="#2b2b2b" stroke="#2b2b2b" stroke-width="0.42" style="font-size:22px;letter-spacing:-0.497px;">200.00</text>
<text transform="translate(125.05,324.30) scale(1.0,1.06)" fill="#2b2b2b" stroke="#2b2b2b" stroke-width="0.42" style="font-size:22px;letter-spacing:-0.400px;">0.00</text>
<text transform="translate(294.62,324.30) scale(1.0,1.06)" fill="#2b2b2b" stroke="#2b2b2b" stroke-width="0.42" style="font-size:22px;letter-spacing:-0.300px;">10.00</text>
<text transform="translate(470.46,324.30) scale(1.0,1.06)" fill="#2b2b2b" stroke="#2b2b2b" stroke-width="0.42" style="font-size:22px;letter-spacing:-0.300px;">20.00</text>
<text transform="translate(646.13,324.30) scale(1.0,1.06)" fill="#2b2b2b" stroke="#2b2b2b" stroke-width="0.42" style="font-size:22px;letter-spacing:-0.300px;">30.00</text>
<text transform="translate(821.91,324.30) scale(1.0,1.06)" fill="#2b2b2b" stroke="#2b2b2b" stroke-width="0.42" style="font-size:22px;letter-spacing:-0.300px;">40.00</text>
<text transform="translate(997.26,324.30) scale(1.0,1.06)" fill="#2b2b2b" stroke="#2b2b2b" stroke-width="0.42" style="font-size:22px;letter-spacing:-0.300px;">50.00</text>
<text transform="translate(1172.71,324.30) scale(1.0,1.06)" fill="#2b2b2b" stroke="#2b2b2b" stroke-width="0.42" style="font-size:22px;letter-spacing:-0.300px;">60.00</text>
<text transform="translate(1348.27,324.30) scale(1.0,1.06)" fill="#2b2b2b" stroke="#2b2b2b" stroke-width="0.42" style="font-size:22px;letter-spacing:-0.300px;">70.00</text>
<text transform="translate(1523.89,324.30) scale(1.0,1.06)" fill="#2b2b2b" stroke="#2b2b2b" stroke-width="0.42" style="font-size:22px;letter-spacing:-0.300px;">80.00</text>
<text transform="translate(808.27,355.30) scale(1.05,1.03)" fill="#2b2b2b" stroke="#2b2b2b" stroke-width="0.42" style="font-size:20px;letter-spacing:1.002px;">Minutes</text>
<text transform="translate(50.80,186.93) rotate(-90) scale(1.0,1.08)" fill="#2b2b2b" stroke="#2b2b2b" stroke-width="0.42" style="font-size:22px;">MV</text>
<clipPath id="c2"><rect x="149.20" y="412.00" width="1407.40" height="268.70"/></clipPath>
<clipPath id="c2s"><rect x="149.20" y="414.60" width="1407.40" height="266.10"/></clipPath>
<g clip-path="url(#c2)">
<text transform="translate(282.35,674.81) rotate(-90) scale(1.0,1.0)" fill="#262626" stroke="#262626" stroke-width="0.3" style="font-size:30.3px;letter-spacing:-0.328px;">Tagatose - 7.125</text>
<text transform="translate(300.43,621.35) rotate(-90) scale(1.0,1.0)" fill="#262626" stroke="#262626" stroke-width="0.3" style="font-size:30.3px;letter-spacing:-0.484px;">fructose - 8.153</text>
<text transform="translate(358.03,679.51) rotate(-90) scale(1.0,1.0)" fill="#262626" stroke="#262626" stroke-width="0.3" style="font-size:30.3px;letter-spacing:-0.104px;">galactose - 11.427</text>
<text transform="translate(537.26,679.41) rotate(-90) scale(1.0,1.0)" fill="#262626" stroke="#262626" stroke-width="0.3" style="font-size:30.3px;letter-spacing:-0.167px;">epilactose - 21.615</text>
<text transform="translate(582.28,653.17) rotate(-90) scale(1.0,1.0)" fill="#262626" stroke="#262626" stroke-width="0.3" style="font-size:30.3px;letter-spacing:-0.123px;">lactulose - 24.174</text>
<text transform="translate(656.20,680.17) rotate(-90) scale(1.0,1.0)" fill="#262626" stroke="#262626" stroke-width="0.3" style="font-size:30.3px;letter-spacing:-0.200px;">lactose - 28.376</text>
</g>
<g clip-path="url(#c2)" stroke="#3a3a3a" stroke-width="0.9" fill="none">
<path d="M273.95,477.54 V507.54"/>
<path d="M292.03,545.71 V575.71"/>
<path d="M349.63,458.70 V488.70"/>
<path d="M528.86,519.69 V549.69"/>
<path d="M573.88,411.00 V-31.14"/>
<path d="M647.80,504.90 V534.90"/>
</g>
<g clip-path="url(#c2)" stroke="#222" stroke-width="1.7" fill="none" stroke-linejoin="miter">
<path d="M264.61,589.20 L284.13,589.16"/>
<path d="M284.13,589.16 L301.90,589.06"/>
<path d="M321.43,588.96 L390.57,589.17"/>
<path d="M504.22,588.99 L547.85,581.39"/>
<path d="M547.85,581.39 L615.75,588.71"/>
<path d="M615.75,588.71 L689.64,588.92"/>
<path d="M264.61,590.00 L275.36,609.50 L253.86,609.50 Z"/>
<path d="M283.96,589.97 L294.71,609.47 L273.21,609.47 Z"/>
<path d="M284.31,589.94 L295.06,609.44 L273.56,609.44 Z"/>
<path d="M301.90,589.86 L312.65,609.36 L291.15,609.36 Z"/>
<path d="M321.43,589.76 L332.18,609.26 L310.68,609.26 Z"/>
<path d="M390.57,589.97 L401.32,609.47 L379.82,609.47 Z"/>
<path d="M504.22,589.79 L514.97,609.29 L493.47,609.29 Z"/>
<path d="M547.85,582.19 L558.60,601.69 L537.10,601.69 Z"/>
<path d="M615.05,589.59 L625.80,609.09 L604.30,609.09 Z"/>
<path d="M616.46,589.42 L627.21,608.92 L605.71,608.92 Z"/>
<path d="M689.64,589.72 L700.39,609.22 L678.89,609.22 Z"/>
</g>
<path clip-path="url(#c2s)" d="M149.20,594.14 L149.64,594.06 L150.08,593.95 L150.52,593.81 L150.61,593.78 L150.96,593.61 L151.40,593.29 L151.84,592.89 L152.28,592.44 L152.72,591.98 L153.16,591.55 L153.60,591.17 L154.04,590.89 L154.48,590.74 L154.65,590.73 L154.92,590.73 L155.36,590.73 L155.80,590.73 L156.24,590.73 L156.68,590.73 L157.12,590.73 L157.56,590.74 L158.00,590.74 L158.44,590.74 L158.88,590.75 L159.32,590.75 L159.76,590.75 L160.20,590.76 L160.64,590.76 L161.07,590.77 L161.51,590.77 L161.95,590.78 L162.39,590.78 L162.83,590.79 L163.27,590.79 L163.71,590.80 L164.15,590.81 L164.59,590.81 L165.03,590.82 L165.47,590.82 L165.91,590.83 L166.35,590.84 L166.79,590.85 L167.23,590.85 L167.67,590.86 L168.11,590.87 L168.55,590.88 L168.99,590.90 L169.43,590.91 L169.87,590.92 L170.31,590.94 L170.75,590.96 L171.19,590.98 L171.63,591.00 L172.07,591.02 L172.51,591.05 L172.95,591.07 L173.39,591.10 L173.83,591.13 L174.27,591.17 L174.36,591.18 L174.71,591.22 L175.15,591.31 L175.59,591.45 L176.03,591.64 L176.47,591.88 L176.91,592.16 L177.35,592.49 L177.70,592.79 L177.79,592.89 L178.23,593.86 L178.67,595.35 L179.11,597.00 L179.46,598.17 L179.55,598.44 L179.99,600.02 L180.43,601.64 L180.87,602.84 L181.22,603.20 L181.31,603.14 L181.75,601.58 L182.19,598.88 L182.63,596.38 L183.07,594.48 L183.51,592.72 L183.68,592.07 L183.95,591.19 L184.38,589.91 L184.82,588.73 L185.26,587.51 L185.70,586.13 L185.97,585.17 L186.14,584.49 L186.21,584.22 L186.28,583.94 L186.36,583.67 L186.43,583.39 L186.50,583.11 L186.57,582.81 L186.58,582.74 L186.64,582.51 L186.71,582.20 L186.78,581.88 L186.85,581.55 L186.92,581.20 L186.99,580.84 L187.02,580.65 L187.06,580.46 L187.13,580.06 L187.20,579.64 L187.27,579.21 L187.34,578.75 L187.41,578.26 L187.46,577.88 L187.48,577.75 L187.55,577.21 L187.62,576.65 L187.69,576.06 L187.73,575.75 L187.76,575.44 L187.83,574.80 L187.90,574.12 L187.97,571.28 L188.04,570.01 L188.11,568.73 L188.18,567.46 L188.26,566.18 L188.33,564.90 L188.34,564.59 L188.40,563.63 L188.47,562.35 L188.52,561.40 L188.54,555.81 L188.61,533.49 L188.68,511.16 L188.75,488.84 L188.78,477.68 L188.82,466.51 L188.89,444.19 L188.96,421.86 L188.99,410.70 L189.03,382.10 L189.10,324.90 L189.17,267.71 L189.22,224.81 L189.24,210.51 L189.31,153.31 L189.38,96.12 L189.45,38.92 L189.52,-18.28 L189.59,-75.47 L189.66,-132.67 L189.73,-189.87 L189.80,-247.06 L189.87,-304.26 L189.94,-361.46 L190.01,-418.66 L190.08,-475.85 L190.10,-490.15 L190.16,-533.05 L190.23,-590.25 L190.30,-647.44 L190.37,-704.64 L190.44,-761.84 L190.51,-819.03 L190.54,-847.63 L190.58,-876.23 L190.65,-933.43 L190.72,-990.63 L190.79,-1047.82 L190.86,-1105.02 L190.93,-1162.22 L190.98,-1205.11 L191.00,-1219.41 L191.07,-1276.61 L191.09,-1290.91 L191.14,-1275.63 L191.21,-1255.25 L191.28,-1234.87 L191.35,-1214.49 L191.42,-1194.11 L191.49,-1173.73 L191.56,-1153.35 L191.63,-1132.98 L191.70,-1112.60 L191.77,-1092.22 L191.84,-1071.84 L191.86,-1066.74 L191.91,-1051.46 L191.98,-1031.08 L192.06,-1010.70 L192.13,-990.33 L192.20,-969.95 L192.27,-949.57 L192.30,-939.38 L192.34,-929.19 L192.41,-908.81 L192.48,-888.43 L192.55,-868.05 L192.62,-847.68 L192.69,-827.30 L192.74,-812.01 L192.76,-806.92 L192.83,-786.54 L192.90,-766.16 L192.97,-745.78 L193.04,-725.40 L193.11,-705.03 L193.18,-684.65 L193.25,-664.27 L193.32,-643.89 L193.39,-623.51 L193.46,-603.13 L193.53,-582.75 L193.60,-562.38 L193.62,-557.28 L193.67,-542.00 L193.74,-521.62 L193.81,-501.24 L193.88,-480.86 L193.96,-460.48 L194.03,-440.10 L194.06,-429.92 L194.10,-419.73 L194.17,-399.35 L194.24,-378.97 L194.31,-358.59 L194.38,-338.21 L194.45,-317.83 L194.50,-302.55 L194.52,-297.45 L194.59,-277.08 L194.66,-256.70 L194.73,-236.32 L194.80,-215.94 L194.87,-195.56 L194.94,-175.18 L195.01,-154.80 L195.08,-134.43 L195.15,-114.05 L195.22,-93.67 L195.29,-73.29 L195.36,-52.91 L195.38,-47.82 L195.43,-32.53 L195.50,-12.15 L195.57,8.22 L195.64,28.60 L195.71,48.98 L195.78,69.36 L195.82,79.55 L195.86,89.74 L195.93,110.12 L196.00,130.49 L196.07,150.87 L196.14,171.25 L196.21,191.63 L196.26,206.91 L196.28,212.01 L196.35,232.39 L196.42,252.77 L196.49,273.14 L196.56,293.52 L196.63,313.90 L196.70,334.28 L196.77,354.66 L196.84,375.04 L196.91,395.42 L196.96,410.70 L196.98,412.29 L197.05,418.66 L197.12,425.02 L197.14,426.61 L197.19,431.39 L197.26,437.75 L197.33,444.12 L197.40,450.49 L197.47,456.85 L197.51,460.04 L197.54,460.39 L197.58,460.74 L197.61,461.09 L197.68,461.79 L197.76,464.45 L197.83,465.47 L197.90,466.41 L197.97,467.25 L198.02,467.84 L198.04,468.03 L198.11,468.73 L198.18,469.38 L198.25,469.97 L198.32,470.52 L198.39,471.03 L198.46,471.51 L198.90,474.40 L199.22,477.08 L199.34,478.32 L199.78,482.70 L200.22,487.06 L200.66,491.48 L201.10,496.05 L201.54,500.89 L201.71,502.91 L201.98,506.16 L202.42,512.14 L202.86,518.52 L203.30,524.91 L203.74,530.94 L204.18,536.24 L204.26,537.18 L204.62,540.78 L205.06,545.10 L205.50,549.15 L205.94,552.87 L206.38,556.17 L206.82,559.01 L206.90,559.51 L207.26,561.44 L207.70,563.72 L208.13,565.85 L208.57,567.79 L209.01,569.54 L209.45,571.07 L209.89,572.37 L210.25,573.24 L210.33,573.43 L210.77,574.36 L211.21,575.22 L211.65,576.02 L212.09,576.76 L212.53,577.44 L212.97,578.07 L213.41,578.65 L213.85,579.19 L214.29,579.68 L214.73,580.14 L215.17,580.55 L215.52,580.86 L215.61,580.94 L216.05,581.30 L216.49,581.66 L216.93,582.01 L217.37,582.35 L217.81,582.69 L218.25,583.01 L218.69,583.32 L219.13,583.62 L219.57,583.91 L220.01,584.19 L220.45,584.45 L220.89,584.71 L221.33,584.95 L221.77,585.18 L222.21,585.40 L222.65,585.60 L223.09,585.79 L223.53,585.96 L223.97,586.12 L224.41,586.26 L224.85,586.39 L225.29,586.50 L225.73,586.60 L226.17,586.69 L226.61,586.77 L227.05,586.86 L227.49,586.94 L227.93,587.01 L228.37,587.09 L228.81,587.16 L229.25,587.23 L229.69,587.30 L230.13,587.37 L230.57,587.43 L231.01,587.49 L231.44,587.55 L231.88,587.61 L232.32,587.67 L232.76,587.72 L233.20,587.77 L233.64,587.83 L234.08,587.87 L234.52,587.92 L234.96,587.97 L235.40,588.01 L235.84,588.05 L236.28,588.10 L236.72,588.14 L237.16,588.17 L237.60,588.21 L238.04,588.25 L238.48,588.28 L238.92,588.31 L239.36,588.35 L239.80,588.38 L240.24,588.41 L240.68,588.44 L241.12,588.47 L241.56,588.49 L242.00,588.52 L242.44,588.55 L242.88,588.57 L242.97,588.58 L243.32,588.59 L243.76,588.62 L244.20,588.64 L244.64,588.67 L245.08,588.69 L245.52,588.72 L245.96,588.74 L246.40,588.76 L246.84,588.79 L247.28,588.81 L247.72,588.83 L248.16,588.85 L248.60,588.88 L249.04,588.90 L249.48,588.92 L249.92,588.94 L250.36,588.96 L250.80,588.98 L251.24,589.00 L251.68,589.01 L252.12,589.03 L252.56,589.05 L253.00,589.07 L253.44,589.08 L253.88,589.10 L254.32,589.11 L254.75,589.12 L255.19,589.13 L255.63,589.15 L256.07,589.16 L256.51,589.17 L256.95,589.17 L257.39,589.18 L257.83,589.19 L258.27,589.19 L258.71,589.20 L259.15,589.20 L259.59,589.20 L260.03,589.20 L260.47,589.20 L260.91,589.20 L261.35,589.20 L261.79,589.20 L262.23,589.20 L262.67,589.20 L263.11,589.20 L263.55,589.20 L263.99,589.20 L264.43,589.20 L264.87,589.20 L265.31,589.20 L265.75,589.20 L266.19,589.20 L266.63,589.20 L267.07,589.20 L267.51,589.20 L267.95,589.20 L268.39,589.19 L268.83,589.15 L269.00,589.11 L269.18,589.07 L269.27,589.03 L269.36,589.00 L269.53,588.89 L269.71,588.75 L269.88,588.54 L270.06,588.25 L270.15,588.07 L270.24,587.86 L270.41,587.33 L270.59,586.63 L270.76,585.71 L270.94,584.53 L271.03,583.83 L271.12,583.04 L271.29,581.18 L271.47,578.91 L271.64,576.18 L271.82,572.96 L271.91,571.15 L272.00,569.21 L272.17,564.93 L272.35,560.15 L272.52,554.90 L272.70,549.26 L272.79,546.32 L272.88,543.33 L273.05,537.25 L273.23,531.16 L273.40,525.26 L273.58,519.72 L273.67,517.15 L273.75,514.74 L273.93,510.50 L274.11,507.17 L274.28,504.86 L274.46,503.69 L274.55,503.54 L274.63,503.64 L274.81,504.41 L274.99,505.93 L275.16,508.17 L275.34,511.06 L275.43,512.72 L275.51,514.52 L275.69,518.48 L275.87,522.83 L276.04,527.47 L276.22,532.31 L276.31,534.77 L276.39,537.25 L276.57,542.18 L276.75,547.03 L276.92,551.72 L277.10,556.19 L277.19,558.33 L277.27,560.39 L277.45,564.28 L277.63,567.84 L277.80,571.06 L277.98,573.93 L278.07,575.24 L278.15,576.47 L278.33,578.67 L278.50,580.58 L278.68,582.20 L278.86,583.57 L278.94,584.17 L279.03,584.71 L279.21,585.66 L279.38,586.43 L279.56,587.05 L279.74,587.55 L279.82,587.76 L279.91,587.94 L280.09,588.25 L280.26,588.49 L280.44,588.68 L280.62,588.82 L280.70,588.87 L280.79,588.92 L280.97,589.00 L281.14,589.06 L281.58,589.14 L282.02,589.18 L282.46,589.19 L282.90,589.19 L283.34,589.19 L283.78,589.18 L284.22,589.15 L284.66,589.11 L285.10,589.04 L285.54,588.93 L285.98,588.75 L286.42,588.47 L286.86,588.08 L287.30,587.52 L287.74,586.77 L288.18,585.79 L288.62,584.56 L289.06,583.09 L289.50,581.41 L289.94,579.58 L290.38,577.69 L290.82,575.86 L291.26,574.23 L291.70,572.92 L292.14,572.06 L292.58,571.72 L293.02,571.86 L293.46,572.37 L293.90,573.21 L294.34,574.34 L294.78,575.68 L295.22,577.17 L295.66,578.72 L296.10,580.27 L296.54,581.75 L296.98,583.12 L297.42,584.34 L297.86,585.40 L298.30,586.29 L298.74,587.02 L299.18,587.61 L299.62,588.06 L300.06,588.40 L300.50,588.65 L300.94,588.83 L301.38,588.96 L301.81,589.05 L302.25,589.10 L302.69,589.14 L303.13,589.17 L303.57,589.18 L304.01,589.19 L304.45,589.20 L304.89,589.20 L305.33,589.20 L305.77,589.20 L306.21,589.20 L306.65,589.20 L307.09,589.20 L307.53,589.20 L307.97,589.20 L308.41,589.20 L308.85,589.20 L309.29,589.20 L309.73,589.20 L310.17,589.20 L310.61,589.20 L311.05,589.20 L311.49,589.20 L311.93,589.20 L312.37,589.20 L312.81,589.20 L313.25,589.20 L313.69,589.20 L314.13,589.20 L314.57,589.19 L315.01,589.19 L315.45,589.19 L315.89,589.18 L316.33,589.18 L316.77,589.17 L317.21,589.17 L317.65,589.16 L318.09,589.15 L318.53,589.14 L318.97,589.12 L319.41,589.10 L319.85,589.08 L320.29,589.05 L320.73,589.02 L321.17,588.99 L321.61,588.94 L322.05,588.89 L322.49,588.83 L322.93,588.75 L323.37,588.67 L323.81,588.57 L324.25,588.45 L324.69,588.32 L325.12,588.16 L325.56,587.98 L326.00,587.77 L326.44,587.53 L326.88,587.26 L327.32,586.95 L327.76,586.60 L328.20,586.20 L328.64,585.74 L329.08,585.23 L329.52,584.66 L329.96,584.02 L330.40,583.31 L330.84,582.51 L331.28,581.64 L331.72,580.67 L332.16,579.60 L332.60,578.43 L333.04,577.16 L333.48,575.77 L333.92,574.26 L334.36,572.63 L334.80,570.88 L335.24,568.99 L335.68,566.98 L336.12,564.83 L336.56,562.56 L337.00,560.15 L337.44,557.61 L337.88,554.95 L338.32,552.17 L338.76,549.28 L339.20,546.28 L339.64,543.19 L340.08,540.02 L340.52,536.77 L340.96,533.47 L341.40,530.13 L341.84,526.76 L342.28,523.39 L342.72,520.04 L343.16,516.72 L343.60,513.45 L344.04,510.26 L344.48,507.17 L344.92,504.19 L345.36,501.36 L345.80,498.69 L346.24,496.21 L346.68,493.92 L347.12,491.86 L347.56,490.03 L348.00,488.45 L348.44,487.13 L348.87,486.10 L349.31,485.34 L349.75,484.87 L350.19,484.70 L350.63,484.79 L351.07,485.07 L351.51,485.56 L351.95,486.24 L352.39,487.11 L352.83,488.17 L353.27,489.41 L353.71,490.82 L354.15,492.40 L354.59,494.14 L355.03,496.03 L355.47,498.05 L355.91,500.20 L356.35,502.47 L356.79,504.84 L357.23,507.31 L357.67,509.86 L358.11,512.47 L358.55,515.14 L358.99,517.86 L359.43,520.61 L359.87,523.38 L360.31,526.15 L360.75,528.93 L361.19,531.70 L361.63,534.44 L362.07,537.16 L362.51,539.83 L362.95,542.46 L363.39,545.03 L363.83,547.54 L364.27,549.98 L364.71,552.35 L365.15,554.65 L365.59,556.86 L366.03,558.99 L366.47,561.04 L366.91,562.99 L367.35,564.86 L367.79,566.64 L368.23,568.33 L368.67,569.92 L369.11,571.44 L369.55,572.86 L369.99,574.20 L370.43,575.45 L370.87,576.63 L371.31,577.72 L371.75,578.75 L372.18,579.69 L372.62,580.57 L373.06,581.39 L373.50,582.14 L373.94,582.83 L374.38,583.46 L374.82,584.04 L375.26,584.57 L375.70,585.06 L376.14,585.50 L376.58,585.90 L377.02,586.26 L377.46,586.59 L377.90,586.88 L378.34,587.15 L378.78,587.39 L379.22,587.60 L379.66,587.80 L380.10,587.97 L380.54,588.12 L380.98,588.25 L381.42,588.37 L381.86,588.48 L382.30,588.57 L382.74,588.66 L383.18,588.73 L383.62,588.79 L384.06,588.85 L384.50,588.90 L384.94,588.94 L385.38,588.98 L385.82,589.01 L386.26,589.04 L386.70,589.06 L387.14,589.08 L387.58,589.10 L388.02,589.12 L388.46,589.13 L388.90,589.14 L389.34,589.15 L389.78,589.16 L390.22,589.17 L390.66,589.17 L391.10,589.18 L391.54,589.18 L391.98,589.18 L392.42,589.19 L392.86,589.19 L393.30,589.19 L393.74,589.19 L394.18,589.20 L394.62,589.20 L395.06,589.20 L395.49,589.20 L395.93,589.20 L396.37,589.20 L396.81,589.20 L397.25,589.20 L397.69,589.20 L398.13,589.20 L398.57,589.20 L399.01,589.20 L399.45,589.20 L399.89,589.20 L400.33,589.20 L400.77,589.20 L401.21,589.20 L401.65,589.20 L402.09,589.20 L402.53,589.20 L402.97,589.20 L403.41,589.20 L403.85,589.20 L404.29,589.20 L404.73,589.20 L405.17,589.20 L405.61,589.20 L406.05,589.20 L406.49,589.20 L406.93,589.20 L407.37,589.20 L407.81,589.20 L408.25,589.20 L408.69,589.20 L409.13,589.20 L409.57,589.20 L410.01,589.20 L410.45,589.20 L410.89,589.20 L411.33,589.20 L411.77,589.20 L412.21,589.20 L412.65,589.20 L413.09,589.20 L413.53,589.20 L413.97,589.20 L414.41,589.20 L414.85,589.20 L415.29,589.20 L415.73,589.20 L416.17,589.20 L416.61,589.20 L417.05,589.20 L417.49,589.20 L417.93,589.20 L418.37,589.20 L418.81,589.20 L419.24,589.20 L419.68,589.20 L420.12,589.20 L420.56,589.20 L421.00,589.20 L421.44,589.20 L421.88,589.20 L422.32,589.20 L422.76,589.20 L423.20,589.20 L423.64,589.20 L424.08,589.20 L424.52,589.20 L424.96,589.20 L425.40,589.20 L425.84,589.20 L426.28,589.20 L426.72,589.20 L427.16,589.20 L427.60,589.20 L428.04,589.20 L428.48,589.20 L428.92,589.20 L429.36,589.20 L429.80,589.20 L430.24,589.20 L430.68,589.20 L431.12,589.20 L431.56,589.20 L432.00,589.20 L432.44,589.20 L432.88,589.20 L433.32,589.20 L433.76,589.20 L434.20,589.20 L434.64,589.20 L435.08,589.20 L435.52,589.20 L435.96,589.20 L436.40,589.20 L436.84,589.20 L437.28,589.20 L437.72,589.20 L438.16,589.20 L438.60,589.20 L439.04,589.20 L439.48,589.20 L439.92,589.20 L440.36,589.20 L440.80,589.20 L441.24,589.20 L441.68,589.20 L442.12,589.20 L442.55,589.20 L442.99,589.20 L443.43,589.20 L443.87,589.20 L444.31,589.20 L444.75,589.20 L445.19,589.20 L445.63,589.20 L446.07,589.20 L446.51,589.20 L446.95,589.20 L447.39,589.20 L447.83,589.20 L448.27,589.20 L448.71,589.20 L449.15,589.20 L449.59,589.20 L450.03,589.20 L450.47,589.20 L450.91,589.20 L451.35,589.20 L451.79,589.20 L452.23,589.20 L452.67,589.20 L453.11,589.20 L453.55,589.20 L453.99,589.20 L454.43,589.20 L454.87,589.20 L455.31,589.20 L455.75,589.20 L456.19,589.20 L456.63,589.20 L457.07,589.20 L457.51,589.20 L457.95,589.20 L458.39,589.20 L458.83,589.20 L459.27,589.20 L459.71,589.20 L460.15,589.20 L460.59,589.20 L461.03,589.20 L461.47,589.20 L461.91,589.20 L462.35,589.20 L462.79,589.20 L463.23,589.20 L463.67,589.20 L464.11,589.20 L464.55,589.20 L464.99,589.20 L465.43,589.20 L465.86,589.20 L466.30,589.20 L466.74,589.20 L467.18,589.20 L467.62,589.20 L468.06,589.20 L468.50,589.20 L468.94,589.20 L469.38,589.20 L469.82,589.20 L470.26,589.20 L470.70,589.20 L471.14,589.20 L471.58,589.20 L472.02,589.20 L472.46,589.20 L472.90,589.20 L473.34,589.20 L473.78,589.20 L474.22,589.20 L474.66,589.20 L475.10,589.20 L475.54,589.20 L475.98,589.20 L476.42,589.20 L476.86,589.20 L477.30,589.20 L477.74,589.20 L478.18,589.20 L478.62,589.20 L479.06,589.20 L479.50,589.20 L479.94,589.20 L480.38,589.20 L480.82,589.20 L481.26,589.20 L481.70,589.20 L482.14,589.20 L482.58,589.20 L483.02,589.20 L483.46,589.20 L483.90,589.20 L484.34,589.20 L484.78,589.20 L485.22,589.20 L485.66,589.20 L486.10,589.20 L486.54,589.20 L486.98,589.20 L487.42,589.20 L487.86,589.20 L488.30,589.20 L488.74,589.20 L489.18,589.20 L489.61,589.20 L490.05,589.20 L490.49,589.20 L490.93,589.20 L491.37,589.20 L491.81,589.20 L492.25,589.20 L492.69,589.20 L493.13,589.20 L493.57,589.20 L494.01,589.20 L494.45,589.20 L494.89,589.20 L495.33,589.20 L495.77,589.20 L496.21,589.20 L496.65,589.20 L497.09,589.20 L497.53,589.19 L497.97,589.19 L498.41,589.19 L498.85,589.19 L499.29,589.18 L499.73,589.18 L500.17,589.17 L500.61,589.16 L501.05,589.15 L501.49,589.14 L501.93,589.13 L502.37,589.11 L502.81,589.09 L503.25,589.06 L503.69,589.03 L504.13,589.00 L504.57,588.96 L505.01,588.91 L505.45,588.85 L505.89,588.78 L506.33,588.70 L506.77,588.61 L507.21,588.51 L507.65,588.38 L508.09,588.24 L508.53,588.08 L508.97,587.90 L509.41,587.69 L509.85,587.45 L510.29,587.18 L510.73,586.88 L511.17,586.54 L511.61,586.16 L512.05,585.74 L512.49,585.28 L512.92,584.76 L513.36,584.20 L513.80,583.58 L514.24,582.90 L514.68,582.17 L515.12,581.38 L515.56,580.52 L516.00,579.60 L516.44,578.63 L516.88,577.58 L517.32,576.48 L517.76,575.32 L518.20,574.10 L518.64,572.82 L519.08,571.50 L519.52,570.13 L519.96,568.71 L520.40,567.27 L520.84,565.80 L521.28,564.31 L521.72,562.81 L522.16,561.32 L522.60,559.83 L523.04,558.36 L523.48,556.92 L523.92,555.53 L524.36,554.19 L524.80,552.91 L525.24,551.71 L525.68,550.59 L526.12,549.57 L526.56,548.65 L527.00,547.84 L527.44,547.16 L527.88,546.59 L528.32,546.17 L528.76,545.87 L529.20,545.72 L529.64,545.70 L530.08,545.80 L530.52,546.01 L530.96,546.32 L531.40,546.73 L531.84,547.25 L532.28,547.86 L532.72,548.57 L533.16,549.36 L533.60,550.24 L534.04,551.19 L534.48,552.21 L534.92,553.29 L535.36,554.43 L535.80,555.62 L536.23,556.84 L536.67,558.10 L537.11,559.38 L537.55,560.68 L537.99,561.99 L538.43,563.30 L538.87,564.61 L539.31,565.91 L539.75,567.18 L540.19,568.44 L540.63,569.66 L541.07,570.86 L541.51,572.01 L541.95,573.11 L542.39,574.17 L542.83,575.17 L543.27,576.12 L543.71,577.00 L544.15,577.81 L544.59,578.56 L545.03,579.23 L545.47,579.82 L545.91,580.32 L546.35,580.74 L546.79,581.06 L547.23,581.27 L547.67,581.38 L548.11,581.36 L548.55,581.21 L548.99,580.92 L549.43,580.48 L549.87,579.87 L550.31,579.07 L550.75,578.07 L551.19,576.85 L551.63,575.38 L552.07,573.65 L552.51,571.63 L552.95,569.28 L553.39,566.59 L553.83,563.52 L554.27,560.04 L554.71,556.11 L555.15,551.71 L555.59,546.79 L556.03,541.32 L556.47,535.26 L556.91,528.58 L557.35,521.25 L557.79,513.23 L558.23,504.49 L558.67,495.00 L559.11,484.74 L559.55,473.69 L559.98,461.83 L560.42,449.16 L560.86,435.67 L561.30,421.37 L561.74,406.26 L562.18,390.38 L562.62,373.75 L563.06,356.40 L563.50,338.39 L563.94,319.77 L564.38,300.62 L564.82,281.01 L565.26,261.03 L565.70,240.77 L566.14,220.34 L566.58,199.86 L567.02,179.43 L567.46,159.20 L567.90,139.29 L568.34,119.83 L568.78,100.97 L569.22,82.83 L569.66,65.55 L570.10,49.26 L570.54,34.09 L570.98,20.17 L571.42,7.61 L571.86,-3.50 L572.30,-13.05 L572.74,-20.97 L573.18,-27.18 L573.62,-31.64 L574.06,-34.30 L574.50,-35.14 L574.94,-34.30 L575.38,-31.93 L575.82,-28.03 L576.26,-22.63 L576.70,-15.78 L577.14,-7.53 L577.58,2.07 L578.02,12.95 L578.46,25.02 L578.90,38.21 L579.34,52.43 L579.78,67.57 L580.22,83.54 L580.66,100.24 L581.10,117.56 L581.54,135.39 L581.98,153.63 L582.42,172.17 L582.86,190.91 L583.29,209.74 L583.73,228.59 L584.17,247.35 L584.61,265.93 L585.05,284.26 L585.49,302.26 L585.93,319.87 L586.37,337.02 L586.81,353.67 L587.25,369.76 L587.69,385.26 L588.13,400.13 L588.57,414.36 L589.01,427.91 L589.45,440.78 L589.89,452.96 L590.33,464.45 L590.77,475.25 L591.21,485.38 L591.65,494.84 L592.09,503.65 L592.53,511.83 L592.97,519.40 L593.41,526.38 L593.85,532.81 L594.29,538.70 L594.73,544.09 L595.17,549.00 L595.61,553.46 L596.05,557.51 L596.49,561.17 L596.93,564.46 L597.37,567.43 L597.81,570.08 L598.25,572.45 L598.69,574.56 L599.13,576.44 L599.57,578.10 L600.01,579.57 L600.45,580.86 L600.89,582.00 L601.33,582.99 L601.77,583.86 L602.21,584.62 L602.65,585.28 L603.09,585.85 L603.53,586.34 L603.97,586.76 L604.41,587.13 L604.85,587.44 L605.29,587.71 L605.73,587.93 L606.17,588.12 L606.60,588.29 L607.04,588.42 L607.48,588.54 L607.92,588.63 L608.36,588.71 L608.80,588.77 L609.24,588.82 L609.68,588.86 L610.12,588.89 L610.56,588.92 L611.00,588.93 L611.44,588.94 L611.88,588.94 L612.32,588.94 L612.76,588.93 L613.20,588.91 L613.64,588.89 L614.08,588.87 L614.52,588.84 L614.96,588.80 L615.40,588.75 L615.84,588.70 L616.28,588.65 L616.72,588.58 L617.16,588.50 L617.60,588.42 L618.04,588.32 L618.48,588.22 L618.92,588.10 L619.36,587.96 L619.80,587.81 L620.24,587.65 L620.68,587.47 L621.12,587.26 L621.56,587.04 L622.00,586.80 L622.44,586.53 L622.88,586.23 L623.32,585.91 L623.76,585.56 L624.20,585.18 L624.64,584.76 L625.08,584.31 L625.52,583.83 L625.96,583.30 L626.40,582.74 L626.84,582.14 L627.28,581.49 L627.72,580.80 L628.16,580.06 L628.60,579.28 L629.04,578.45 L629.48,577.57 L629.92,576.64 L630.35,575.66 L630.79,574.64 L631.23,573.56 L631.67,572.44 L632.11,571.27 L632.55,570.05 L632.99,568.79 L633.43,567.48 L633.87,566.14 L634.31,564.76 L634.75,563.34 L635.19,561.89 L635.63,560.42 L636.07,558.92 L636.51,557.41 L636.95,555.88 L637.39,554.35 L637.83,552.81 L638.27,551.27 L638.71,549.75 L639.15,548.24 L639.59,546.75 L640.03,545.30 L640.47,543.87 L640.91,542.49 L641.35,541.16 L641.79,539.88 L642.23,538.67 L642.67,537.52 L643.11,536.45 L643.55,535.45 L643.99,534.54 L644.43,533.72 L644.87,532.99 L645.31,532.36 L645.75,531.83 L646.19,531.41 L646.63,531.09 L647.07,530.88 L647.51,530.78 L647.95,530.79 L648.39,530.89 L648.83,531.08 L649.27,531.36 L649.71,531.73 L650.15,532.19 L650.59,532.73 L651.03,533.36 L651.47,534.06 L651.91,534.85 L652.35,535.70 L652.79,536.63 L653.23,537.61 L653.66,538.66 L654.10,539.77 L654.54,540.93 L654.98,542.13 L655.42,543.38 L655.86,544.66 L656.30,545.98 L656.74,547.32 L657.18,548.68 L657.62,550.06 L658.06,551.45 L658.50,552.85 L658.94,554.26 L659.38,555.66 L659.82,557.05 L660.26,558.44 L660.70,559.81 L661.14,561.16 L661.58,562.49 L662.02,563.80 L662.46,565.08 L662.90,566.33 L663.34,567.55 L663.78,568.74 L664.22,569.89 L664.66,571.01 L665.10,572.08 L665.54,573.12 L665.98,574.12 L666.42,575.08 L666.86,575.99 L667.30,576.87 L667.74,577.70 L668.18,578.49 L668.62,579.25 L669.06,579.96 L669.50,580.63 L669.94,581.27 L670.38,581.87 L670.82,582.43 L671.26,582.96 L671.70,583.46 L672.14,583.92 L672.58,584.35 L673.02,584.75 L673.46,585.13 L673.90,585.47 L674.34,585.79 L674.78,586.09 L675.22,586.36 L675.66,586.61 L676.10,586.84 L676.54,587.06 L676.97,587.25 L677.41,587.43 L677.85,587.59 L678.29,587.73 L678.73,587.87 L679.17,587.99 L679.61,588.10 L680.05,588.20 L680.49,588.29 L680.93,588.36 L681.37,588.44 L681.81,588.50 L682.25,588.56 L682.69,588.61 L683.13,588.65 L683.57,588.69 L684.01,588.73 L684.45,588.76 L684.89,588.79 L685.33,588.81 L685.77,588.83 L686.21,588.85 L686.65,588.87 L687.09,588.88 L687.53,588.89 L687.97,588.90 L688.41,588.91 L688.85,588.92 L689.29,588.92 L689.73,588.93 L690.17,588.93 L690.61,588.93 L691.05,588.93 L691.49,588.93 L691.93,588.93 L692.37,588.93 L692.81,588.93 L693.25,588.93 L693.69,588.93 L694.13,588.93 L694.57,588.93 L695.01,588.93 L695.45,588.92 L695.89,588.92 L696.33,588.92 L696.77,588.92 L697.21,588.91 L697.65,588.91 L698.09,588.91 L698.53,588.90 L698.97,588.90 L699.41,588.90 L699.85,588.89 L700.29,588.89 L700.72,588.89 L701.16,588.88 L701.60,588.88 L702.04,588.87 L702.48,588.87 L702.92,588.87 L703.36,588.86 L703.80,588.86 L704.24,588.85 L704.68,588.85 L705.12,588.85 L705.56,588.84 L706.00,588.84 L706.44,588.83 L706.88,588.83 L707.32,588.83 L707.76,588.82 L708.20,588.82 L708.64,588.81 L709.08,588.81 L709.52,588.80 L709.96,588.80 L710.40,588.80 L710.84,588.79 L711.28,588.79 L711.72,588.78 L712.16,588.78 L716.56,588.74 L720.96,588.69 L725.35,588.65 L729.75,588.61 L734.15,588.57 L738.55,588.54 L742.95,588.51 L747.34,588.49 L751.74,588.46 L756.14,588.45 L760.54,588.43 L764.94,588.41 L769.34,588.39 L773.73,588.38 L778.13,588.36 L782.53,588.35 L786.93,588.34 L791.33,588.32 L795.72,588.31 L800.12,588.30 L804.52,588.28 L808.92,588.27 L813.32,588.26 L817.71,588.25 L822.11,588.23 L826.51,588.22 L830.91,588.21 L835.31,588.19 L839.71,588.18 L844.10,588.16 L848.50,588.14 L852.90,588.13 L857.30,588.11 L861.70,588.09 L866.09,588.07 L870.49,588.06 L874.89,588.04 L879.29,588.03 L883.69,588.01 L888.08,587.99 L892.48,587.97 L896.88,587.96 L901.28,587.94 L905.68,587.92 L910.08,587.90 L914.47,587.88 L918.87,587.86 L923.27,587.83 L927.67,587.81 L932.07,587.78 L936.46,587.76 L940.86,587.73 L945.26,587.69 L949.66,587.66 L954.06,587.63 L958.45,587.59 L962.85,587.53 L967.25,587.44 L971.65,587.34 L976.05,587.24 L980.45,587.17 L984.84,587.14 L989.24,587.16 L993.64,587.21 L998.04,587.29 L1002.44,587.39 L1006.83,587.50 L1011.23,587.60 L1015.63,587.70 L1020.03,587.78 L1024.43,587.84 L1028.82,587.86 L1033.22,587.85 L1037.62,587.83 L1042.02,587.80 L1046.42,587.77 L1050.82,587.73 L1055.21,587.68 L1059.61,587.63 L1064.01,587.59 L1068.41,587.54 L1072.81,587.50 L1077.20,587.46 L1081.60,587.43 L1086.00,587.42 L1090.40,587.41 L1094.80,587.41 L1099.19,587.43 L1103.59,587.44 L1107.99,587.47 L1112.39,587.50 L1116.79,587.53 L1121.19,587.57 L1125.58,587.60 L1129.98,587.64 L1134.38,587.68 L1138.78,587.72 L1143.18,587.76 L1147.57,587.80 L1151.97,587.85 L1156.37,587.91 L1160.77,587.97 L1165.17,588.05 L1169.56,588.13 L1173.96,588.23 L1178.36,588.37 L1182.76,588.55 L1187.16,588.74 L1191.56,588.96 L1195.95,589.18 L1200.35,589.42 L1204.75,589.65 L1209.15,589.92 L1213.55,590.23 L1217.94,590.55 L1222.34,590.86 L1226.74,591.13 L1227.62,591.18 L1231.14,591.36 L1235.54,591.60 L1239.93,591.79 L1244.33,591.89 L1245.21,591.89 L1248.73,591.86 L1253.13,591.74 L1257.53,591.56 L1261.93,591.36 L1266.32,591.18 L1270.72,591.00 L1275.12,590.80 L1279.52,590.58 L1283.92,590.36 L1288.31,590.13 L1292.71,589.91 L1297.11,589.70 L1301.51,589.51 L1305.91,589.34 L1310.30,589.20 L1314.70,589.08 L1319.10,588.96 L1323.50,588.85 L1327.90,588.74 L1332.30,588.65 L1336.69,588.58 L1341.09,588.52 L1345.49,588.49 L1349.89,588.46 L1354.29,588.44 L1358.68,588.43 L1363.08,588.41 L1367.48,588.39 L1371.88,588.38 L1376.28,588.36 L1380.67,588.35 L1385.07,588.34 L1389.47,588.33 L1393.87,588.32 L1398.27,588.32 L1402.67,588.31 L1407.06,588.31 L1411.46,588.31 L1415.86,588.31 L1420.26,588.31 L1424.66,588.31 L1429.05,588.31 L1433.45,588.31 L1437.85,588.31 L1442.25,588.31 L1446.65,588.31 L1451.04,588.31 L1455.44,588.31 L1459.84,588.31 L1464.24,588.31 L1468.64,588.31 L1473.04,588.31 L1477.43,588.31 L1481.83,588.31 L1486.23,588.31 L1490.63,588.29 L1495.03,588.25 L1499.42,588.19 L1503.82,588.13 L1508.22,588.06 L1512.62,588.00 L1517.02,587.96 L1521.41,587.95 L1525.81,588.07 L1530.21,588.35 L1534.61,588.63 L1539.01,588.75 L1543.41,588.73 L1547.80,588.66 L1552.20,588.53 L1556.60,588.31" fill="none" stroke="#222" stroke-width="1.75" stroke-linejoin="round"/>
<rect x="149.20" y="411.00" width="1407.40" height="269.70" fill="none" stroke="#222" stroke-width="2.4"/>
<path d="M135.60,679.80 H149.20 M135.60,590.10 H149.20 M135.60,500.40 H149.20 M135.60,410.70 H149.20 M142.40,661.86 H149.20 M142.40,643.92 H149.20 M142.40,625.98 H149.20 M142.40,608.04 H149.20 M142.40,572.16 H149.20 M142.40,554.22 H149.20 M142.40,536.28 H149.20 M142.40,518.34 H149.20 M142.40,482.46 H149.20 M142.40,464.52 H149.20 M142.40,446.58 H149.20 M142.40,428.64 H149.20 M149.20,680.70 V695.90 M184.38,680.70 V690.10 M219.57,680.70 V690.10 M254.75,680.70 V690.10 M289.94,680.70 V690.10 M325.12,680.70 V695.90 M360.31,680.70 V690.10 M395.49,680.70 V690.10 M430.68,680.70 V690.10 M465.86,680.70 V690.10 M501.05,680.70 V695.90 M536.23,680.70 V690.10 M571.42,680.70 V690.10 M606.60,680.70 V690.10 M641.79,680.70 V690.10 M676.97,680.70 V695.90 M712.16,680.70 V690.10 M747.34,680.70 V690.10 M782.53,680.70 V690.10 M817.71,680.70 V690.10 M852.90,680.70 V695.90 M888.08,680.70 V690.10 M923.27,680.70 V690.10 M958.45,680.70 V690.10 M993.64,680.70 V690.10 M1028.82,680.70 V695.90 M1064.01,680.70 V690.10 M1099.19,680.70 V690.10 M1134.38,680.70 V690.10 M1169.56,680.70 V690.10 M1204.75,680.70 V695.90 M1239.93,680.70 V690.10 M1275.12,680.70 V690.10 M1310.30,680.70 V690.10 M1345.49,680.70 V690.10 M1380.67,680.70 V695.90 M1415.86,680.70 V690.10 M1451.04,680.70 V690.10 M1486.23,680.70 V690.10 M1521.41,680.70 V690.10 M1556.60,680.70 V695.90" fill="none" stroke="#222" stroke-width="2"/>
<text transform="translate(73.82,690.20) scale(1.0,1.03)" fill="#2b2b2b" stroke="#2b2b2b" stroke-width="0.42" style="font-size:22px;">-</text>
<text transform="translate(82.97,690.50) scale(1.0,1.06)" fill="#2b2b2b" stroke="#2b2b2b" stroke-width="0.42" style="font-size:22px;letter-spacing:-0.500px;">10.00</text>
<text transform="translate(94.74,601.40) scale(1.0,1.06)" fill="#2b2b2b" stroke="#2b2b2b" stroke-width="0.42" style="font-size:22px;letter-spacing:-0.521px;">0.00</text>
<text transform="translate(82.97,511.60) scale(1.0,1.06)" fill="#2b2b2b" stroke="#2b2b2b" stroke-width="0.42" style="font-size:22px;letter-spacing:-0.500px;">10.00</text>
<text transform="translate(82.99,421.00) scale(1.0,1.06)" fill="#2b2b2b" stroke="#2b2b2b" stroke-width="0.42" style="font-size:22px;letter-spacing:-0.505px;">20.00</text>
<text transform="translate(127.85,717.00) scale(1.0,1.06)" fill="#2b2b2b" stroke="#2b2b2b" stroke-width="0.42" style="font-size:22px;letter-spacing:-0.400px;">0.00</text>
<text transform="translate(297.79,717.00) scale(1.0,1.06)" fill="#2b2b2b" stroke="#2b2b2b" stroke-width="0.42" style="font-size:22px;letter-spacing:-0.300px;">10.00</text>
<text transform="translate(473.98,717.00) scale(1.0,1.06)" fill="#2b2b2b" stroke="#2b2b2b" stroke-width="0.42" style="font-size:22px;letter-spacing:-0.300px;">20.00</text>
<text transform="translate(650.02,717.00) scale(1.0,1.06)" fill="#2b2b2b" stroke="#2b2b2b" stroke-width="0.42" style="font-size:22px;letter-spacing:-0.300px;">30.00</text>
<text transform="translate(826.16,717.00) scale(1.0,1.06)" fill="#2b2b2b" stroke="#2b2b2b" stroke-width="0.42" style="font-size:22px;letter-spacing:-0.300px;">40.00</text>
<text transform="translate(1001.87,717.00) scale(1.0,1.06)" fill="#2b2b2b" stroke="#2b2b2b" stroke-width="0.42" style="font-size:22px;letter-spacing:-0.300px;">50.00</text>
<text transform="translate(1177.69,717.00) scale(1.0,1.06)" fill="#2b2b2b" stroke="#2b2b2b" stroke-width="0.42" style="font-size:22px;letter-spacing:-0.300px;">60.00</text>
<text transform="translate(1353.61,717.00) scale(1.0,1.06)" fill="#2b2b2b" stroke="#2b2b2b" stroke-width="0.42" style="font-size:22px;letter-spacing:-0.300px;">70.00</text>
<text transform="translate(1529.59,717.00) scale(1.0,1.06)" fill="#2b2b2b" stroke="#2b2b2b" stroke-width="0.42" style="font-size:22px;letter-spacing:-0.300px;">80.00</text>
<text transform="translate(812.52,748.00) scale(1.05,1.03)" fill="#2b2b2b" stroke="#2b2b2b" stroke-width="0.42" style="font-size:20px;letter-spacing:1.002px;">Minutes</text>
<text transform="translate(57.80,563.48) rotate(-90) scale(1.0,1.08)" fill="#2b2b2b" stroke="#2b2b2b" stroke-width="0.42" style="font-size:22px;">MV</text>
<text transform="translate(544.94,790.10) scale(1.08,1.03)" fill="#161616" stroke="#161616" stroke-width="0.1" style="font-size:26.5px;font-weight:bold;letter-spacing:1.132px;">Peak Results</text>
<path d="M71.90,797.40 V1232.00 M104.80,797.40 V1232.00 M227.20,797.40 V1232.00 M313.40,797.40 V1232.00 M417.60,797.40 V1232.00 M513.40,797.40 V1232.00 M602.70,797.40 V1232.00 M688.50,797.40 V1232.00 M870.40,797.40 V1232.00 M1060.50,797.40 V1232.00 M1206.80,797.40 V1232.00" fill="none" stroke="#000" stroke-opacity="0.52" stroke-width="1.7"/>
<path d="M71.10,798.20 H1207.60 M71.10,841.50 H1207.60 M71.10,884.80 H1207.60 M71.10,928.10 H1207.60 M71.10,971.40 H1207.60 M71.10,1014.70 H1207.60 M71.10,1058.00 H1207.60 M71.10,1101.30 H1207.60 M71.10,1144.60 H1207.60 M71.10,1187.90 H1207.60 M71.10,1231.20 H1207.60" fill="none" stroke="#000" stroke-opacity="0.52" stroke-width="1.7"/>
<path d="M71.10,1231.20 H1207.60" fill="none" stroke="#000" stroke-opacity="0.45" stroke-width="1.9"/>
<path d="M1206.80,797.40 V1232.00 M71.10,798.20 H1207.60" fill="none" stroke="#000" stroke-opacity="0.3" stroke-width="1.9"/>
<text transform="translate(135.64,826.60) scale(1.03,1.03)" fill="#2b2b2b" stroke="#2b2b2b" stroke-width="0.42" style="font-size:22px;letter-spacing:0.010px;">Name</text>
<text transform="translate(254.14,826.60) scale(1.03,1.03)" fill="#2b2b2b" stroke="#2b2b2b" stroke-width="0.42" style="font-size:22px;letter-spacing:1.717px;">RT</text>
<text transform="translate(342.65,826.60) scale(1.03,1.03)" fill="#2b2b2b" stroke="#2b2b2b" stroke-width="0.42" style="font-size:22px;letter-spacing:-0.490px;">Area</text>
<text transform="translate(428.46,826.60) scale(1.03,1.03)" fill="#2b2b2b" stroke="#2b2b2b" stroke-width="0.42" style="font-size:22px;letter-spacing:0.158px;">% Area</text>
<text transform="translate(522.69,826.60) scale(1.03,1.03)" fill="#2b2b2b" stroke="#2b2b2b" stroke-width="0.42" style="font-size:22px;letter-spacing:0.804px;">Height</text>
<text transform="translate(630.17,826.60) scale(1.03,1.03)" fill="#2b2b2b" stroke="#2b2b2b" stroke-width="0.42" style="font-size:22px;letter-spacing:0.972px;">s/n</text>
<text transform="translate(698.45,826.60) scale(1.03,1.03)" fill="#2b2b2b" stroke="#2b2b2b" stroke-width="0.42" style="font-size:22px;letter-spacing:0.213px;">USP Resolution</text>
<text transform="translate(879.90,826.60) scale(1.03,1.03)" fill="#2b2b2b" stroke="#2b2b2b" stroke-width="0.42" style="font-size:22px;letter-spacing:-0.052px;">USP Plate Count</text>
<text transform="translate(1071.75,826.60) scale(1.03,1.03)" fill="#2b2b2b" stroke="#2b2b2b" stroke-width="0.42" style="font-size:22px;letter-spacing:0.770px;">USP Tailing</text>
<text transform="translate(82.51,869.50) scale(1.0,1.03)" fill="#2b2b2b" stroke="#2b2b2b" stroke-width="0.42" style="font-size:22px;">1</text>
<text transform="translate(115.33,870.00) scale(1.03,1.03)" fill="#2b2b2b" stroke="#2b2b2b" stroke-width="0.42" style="font-size:22px;letter-spacing:-0.187px;">imp F</text>
<text transform="translate(249.74,870.00) scale(1.0,1.05)" fill="#2b2b2b" stroke="#2b2b2b" stroke-width="0.42" style="font-size:22px;letter-spacing:-0.266px;">3.513</text>
<text transform="translate(82.84,912.80) scale(1.0,1.03)" fill="#2b2b2b" stroke="#2b2b2b" stroke-width="0.42" style="font-size:22px;">2</text>
<text transform="translate(116.35,913.30) scale(1.03,1.03)" fill="#2b2b2b" stroke="#2b2b2b" stroke-width="0.42" style="font-size:22px;letter-spacing:0.369px;">Tagatose</text>
<text transform="translate(249.74,913.30) scale(1.0,1.05)" fill="#2b2b2b" stroke="#2b2b2b" stroke-width="0.42" style="font-size:22px;letter-spacing:-0.265px;">7.125</text>
<text transform="translate(336.60,913.30) scale(1.0,1.05)" fill="#2b2b2b" stroke="#2b2b2b" stroke-width="0.42" style="font-size:22px;letter-spacing:-0.637px;">192271</text>
<text transform="translate(461.71,913.30) scale(1.0,1.05)" fill="#2b2b2b" stroke="#2b2b2b" stroke-width="0.42" style="font-size:22px;letter-spacing:-0.272px;">2.68</text>
<text transform="translate(546.36,913.30) scale(1.0,1.05)" fill="#2b2b2b" stroke="#2b2b2b" stroke-width="0.42" style="font-size:22px;letter-spacing:-0.703px;">9587</text>
<text transform="translate(623.75,913.30) scale(1.0,1.05)" fill="#2b2b2b" stroke="#2b2b2b" stroke-width="0.42" style="font-size:22px;letter-spacing:-0.266px;">390.1</text>
<text transform="translate(1003.84,913.30) scale(1.0,1.05)" fill="#2b2b2b" stroke="#2b2b2b" stroke-width="0.42" style="font-size:22px;letter-spacing:-0.706px;">2920</text>
<text transform="translate(1165.97,913.30) scale(1.0,1.05)" fill="#2b2b2b" stroke="#2b2b2b" stroke-width="0.42" style="font-size:22px;letter-spacing:-0.279px;">1.1</text>
<text transform="translate(82.84,956.10) scale(1.0,1.03)" fill="#2b2b2b" stroke="#2b2b2b" stroke-width="0.42" style="font-size:22px;">3</text>
<text transform="translate(116.46,956.60) scale(1.03,1.03)" fill="#2b2b2b" stroke="#2b2b2b" stroke-width="0.42" style="font-size:22px;letter-spacing:-0.112px;">fructose</text>
<text transform="translate(249.74,956.60) scale(1.0,1.05)" fill="#2b2b2b" stroke="#2b2b2b" stroke-width="0.42" style="font-size:22px;letter-spacing:-0.266px;">8.153</text>
<text transform="translate(348.32,956.60) scale(1.0,1.05)" fill="#2b2b2b" stroke="#2b2b2b" stroke-width="0.42" style="font-size:22px;letter-spacing:-0.672px;">43981</text>
<text transform="translate(460.62,956.60) scale(1.0,1.05)" fill="#2b2b2b" stroke="#2b2b2b" stroke-width="0.42" style="font-size:22px;letter-spacing:-0.273px;">0.61</text>
<text transform="translate(546.22,956.60) scale(1.0,1.05)" fill="#2b2b2b" stroke="#2b2b2b" stroke-width="0.42" style="font-size:22px;letter-spacing:-0.695px;">1979</text>
<text transform="translate(636.81,956.60) scale(1.0,1.05)" fill="#2b2b2b" stroke="#2b2b2b" stroke-width="0.42" style="font-size:22px;letter-spacing:-0.273px;">80.5</text>
<text transform="translate(830.66,956.60) scale(1.0,1.05)" fill="#2b2b2b" stroke="#2b2b2b" stroke-width="0.42" style="font-size:22px;letter-spacing:-0.280px;">1.8</text>
<text transform="translate(1002.86,956.60) scale(1.0,1.05)" fill="#2b2b2b" stroke="#2b2b2b" stroke-width="0.42" style="font-size:22px;letter-spacing:-0.706px;">3001</text>
<text transform="translate(1167.28,956.60) scale(1.0,1.05)" fill="#2b2b2b" stroke="#2b2b2b" stroke-width="0.42" style="font-size:22px;letter-spacing:-0.278px;">1.2</text>
<text transform="translate(82.90,999.40) scale(1.0,1.03)" fill="#2b2b2b" stroke="#2b2b2b" stroke-width="0.42" style="font-size:22px;">4</text>
<text transform="translate(115.89,999.90) scale(1.03,1.03)" fill="#2b2b2b" stroke="#2b2b2b" stroke-width="0.42" style="font-size:22px;letter-spacing:0.149px;">galactose</text>
<text transform="translate(239.49,999.90) scale(1.0,1.05)" fill="#2b2b2b" stroke="#2b2b2b" stroke-width="0.42" style="font-size:22px;letter-spacing:-0.252px;">11.427</text>
<text transform="translate(337.41,999.90) scale(1.0,1.05)" fill="#2b2b2b" stroke="#2b2b2b" stroke-width="0.42" style="font-size:22px;letter-spacing:-0.646px;">875754</text>
<text transform="translate(449.73,999.90) scale(1.0,1.05)" fill="#2b2b2b" stroke="#2b2b2b" stroke-width="0.42" style="font-size:22px;letter-spacing:-0.262px;">12.23</text>
<text transform="translate(536.24,999.90) scale(1.0,1.05)" fill="#2b2b2b" stroke="#2b2b2b" stroke-width="0.42" style="font-size:22px;letter-spacing:-0.639px;">11682</text>
<text transform="translate(624.53,999.90) scale(1.0,1.05)" fill="#2b2b2b" stroke="#2b2b2b" stroke-width="0.42" style="font-size:22px;letter-spacing:-0.270px;">475.4</text>
<text transform="translate(830.67,999.90) scale(1.0,1.05)" fill="#2b2b2b" stroke="#2b2b2b" stroke-width="0.42" style="font-size:22px;letter-spacing:-0.286px;">2.5</text>
<text transform="translate(1015.72,999.90) scale(1.0,1.05)" fill="#2b2b2b" stroke="#2b2b2b" stroke-width="0.42" style="font-size:22px;letter-spacing:-0.785px;">535</text>
<text transform="translate(1165.97,999.90) scale(1.0,1.05)" fill="#2b2b2b" stroke="#2b2b2b" stroke-width="0.42" style="font-size:22px;letter-spacing:-0.279px;">1.1</text>
<text transform="translate(82.84,1042.70) scale(1.0,1.03)" fill="#2b2b2b" stroke="#2b2b2b" stroke-width="0.42" style="font-size:22px;">5</text>
<text transform="translate(115.33,1043.20) scale(1.03,1.03)" fill="#2b2b2b" stroke="#2b2b2b" stroke-width="0.42" style="font-size:22px;letter-spacing:0.114px;">imp G</text>
<text transform="translate(237.87,1043.20) scale(1.0,1.05)" fill="#2b2b2b" stroke="#2b2b2b" stroke-width="0.42" style="font-size:22px;letter-spacing:-0.258px;">19.817</text>
<text transform="translate(82.73,1086.00) scale(1.0,1.03)" fill="#2b2b2b" stroke="#2b2b2b" stroke-width="0.42" style="font-size:22px;">6</text>
<text transform="translate(115.89,1086.50) scale(1.03,1.03)" fill="#2b2b2b" stroke="#2b2b2b" stroke-width="0.42" style="font-size:22px;letter-spacing:-0.028px;">epilactose</text>
<text transform="translate(237.67,1086.50) scale(1.0,1.05)" fill="#2b2b2b" stroke="#2b2b2b" stroke-width="0.42" style="font-size:22px;letter-spacing:-0.261px;">21.615</text>
<text transform="translate(337.41,1086.50) scale(1.0,1.05)" fill="#2b2b2b" stroke="#2b2b2b" stroke-width="0.42" style="font-size:22px;letter-spacing:-0.645px;">294734</text>
<text transform="translate(462.24,1086.50) scale(1.0,1.05)" fill="#2b2b2b" stroke="#2b2b2b" stroke-width="0.42" style="font-size:22px;letter-spacing:-0.265px;">4.11</text>
<text transform="translate(546.38,1086.50) scale(1.0,1.05)" fill="#2b2b2b" stroke="#2b2b2b" stroke-width="0.42" style="font-size:22px;letter-spacing:-0.711px;">4257</text>
<text transform="translate(625.04,1086.50) scale(1.0,1.05)" fill="#2b2b2b" stroke="#2b2b2b" stroke-width="0.42" style="font-size:22px;letter-spacing:-0.261px;">173.2</text>
<text transform="translate(830.89,1086.50) scale(1.0,1.05)" fill="#2b2b2b" stroke="#2b2b2b" stroke-width="0.42" style="font-size:22px;letter-spacing:-0.286px;">5.2</text>
<text transform="translate(1003.94,1086.50) scale(1.0,1.05)" fill="#2b2b2b" stroke="#2b2b2b" stroke-width="0.42" style="font-size:22px;letter-spacing:-0.705px;">2075</text>
<text transform="translate(1167.18,1086.50) scale(1.0,1.05)" fill="#2b2b2b" stroke="#2b2b2b" stroke-width="0.42" style="font-size:22px;letter-spacing:-0.287px;">0.9</text>
<text transform="translate(82.84,1129.30) scale(1.0,1.03)" fill="#2b2b2b" stroke="#2b2b2b" stroke-width="0.42" style="font-size:22px;">7</text>
<text transform="translate(115.33,1129.80) scale(1.03,1.03)" fill="#2b2b2b" stroke="#2b2b2b" stroke-width="0.42" style="font-size:22px;letter-spacing:0.047px;">lactulose</text>
<text transform="translate(237.34,1129.80) scale(1.0,1.05)" fill="#2b2b2b" stroke="#2b2b2b" stroke-width="0.42" style="font-size:22px;letter-spacing:-0.263px;">24.174</text>
<text transform="translate(325.97,1129.80) scale(1.0,1.05)" fill="#2b2b2b" stroke="#2b2b2b" stroke-width="0.42" style="font-size:22px;letter-spacing:-0.629px;">5168010</text>
<text transform="translate(449.42,1129.80) scale(1.0,1.05)" fill="#2b2b2b" stroke="#2b2b2b" stroke-width="0.42" style="font-size:22px;letter-spacing:-0.267px;">72.14</text>
<text transform="translate(534.59,1129.80) scale(1.0,1.05)" fill="#2b2b2b" stroke="#2b2b2b" stroke-width="0.42" style="font-size:22px;letter-spacing:-0.665px;">68739</text>
<text transform="translate(612.98,1129.80) scale(1.0,1.05)" fill="#2b2b2b" stroke="#2b2b2b" stroke-width="0.42" style="font-size:22px;letter-spacing:-0.260px;">2797.2</text>
<text transform="translate(830.66,1129.80) scale(1.0,1.05)" fill="#2b2b2b" stroke="#2b2b2b" stroke-width="0.42" style="font-size:22px;letter-spacing:-0.280px;">1.3</text>
<text transform="translate(1003.94,1129.80) scale(1.0,1.05)" fill="#2b2b2b" stroke="#2b2b2b" stroke-width="0.42" style="font-size:22px;letter-spacing:-0.705px;">2133</text>
<text transform="translate(1165.97,1129.80) scale(1.0,1.05)" fill="#2b2b2b" stroke="#2b2b2b" stroke-width="0.42" style="font-size:22px;letter-spacing:-0.279px;">1.1</text>
<text transform="translate(82.79,1172.60) scale(1.0,1.03)" fill="#2b2b2b" stroke="#2b2b2b" stroke-width="0.42" style="font-size:22px;">8</text>
<text transform="translate(115.33,1173.10) scale(1.03,1.03)" fill="#2b2b2b" stroke="#2b2b2b" stroke-width="0.42" style="font-size:22px;letter-spacing:0.074px;">lactose</text>
<text transform="translate(237.67,1173.10) scale(1.0,1.05)" fill="#2b2b2b" stroke="#2b2b2b" stroke-width="0.42" style="font-size:22px;letter-spacing:-0.261px;">28.376</text>
<text transform="translate(337.73,1173.10) scale(1.0,1.05)" fill="#2b2b2b" stroke="#2b2b2b" stroke-width="0.42" style="font-size:22px;letter-spacing:-0.644px;">588706</text>
<text transform="translate(461.92,1173.10) scale(1.0,1.05)" fill="#2b2b2b" stroke="#2b2b2b" stroke-width="0.42" style="font-size:22px;letter-spacing:-0.271px;">8.22</text>
<text transform="translate(546.35,1173.10) scale(1.0,1.05)" fill="#2b2b2b" stroke="#2b2b2b" stroke-width="0.42" style="font-size:22px;letter-spacing:-0.701px;">6347</text>
<text transform="translate(624.84,1173.10) scale(1.0,1.05)" fill="#2b2b2b" stroke="#2b2b2b" stroke-width="0.42" style="font-size:22px;letter-spacing:-0.265px;">258.3</text>
<text transform="translate(830.66,1173.10) scale(1.0,1.05)" fill="#2b2b2b" stroke="#2b2b2b" stroke-width="0.42" style="font-size:22px;letter-spacing:-0.280px;">1.8</text>
<text transform="translate(1005.41,1173.10) scale(1.0,1.05)" fill="#2b2b2b" stroke="#2b2b2b" stroke-width="0.42" style="font-size:22px;letter-spacing:-0.681px;">2110</text>
<text transform="translate(1165.97,1173.10) scale(1.0,1.05)" fill="#2b2b2b" stroke="#2b2b2b" stroke-width="0.42" style="font-size:22px;letter-spacing:-0.279px;">1.1</text>
<text transform="translate(82.84,1215.90) scale(1.0,1.03)" fill="#2b2b2b" stroke="#2b2b2b" stroke-width="0.42" style="font-size:22px;">9</text>
<text transform="translate(115.33,1216.40) scale(1.03,1.03)" fill="#2b2b2b" stroke="#2b2b2b" stroke-width="0.42" style="font-size:22px;letter-spacing:0.035px;">imp H</text>
<text transform="translate(237.90,1216.40) scale(1.0,1.05)" fill="#2b2b2b" stroke="#2b2b2b" stroke-width="0.42" style="font-size:22px;letter-spacing:-0.263px;">42.067</text>
</svg>
</body></html>
